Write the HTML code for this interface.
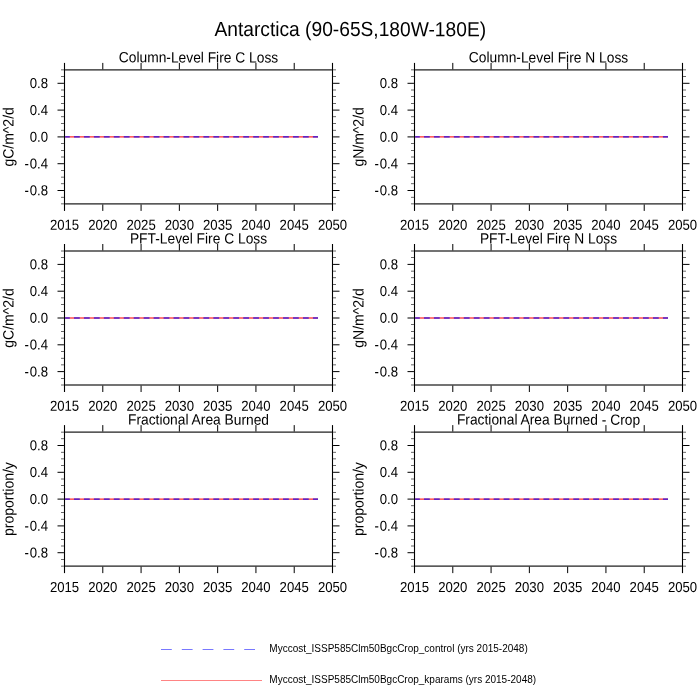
<!DOCTYPE html>
<html><head><meta charset="utf-8"><title>Antarctica</title>
<style>
html,body{margin:0;padding:0;background:#fff;width:700px;height:700px;overflow:hidden}
svg{display:block;will-change:transform}
text{font-family:"Liberation Sans", Arial, Helvetica, sans-serif;fill:#000}
</style></head><body>
<svg width="700" height="700" viewBox="0 0 700 700">
<rect width="700" height="700" fill="#fff"/>
<text transform="translate(350.25 36.1) skewY(0.05) scale(1.0 1.07)" text-anchor="middle" font-size="19.2">Antarctica (90-65S,180W-180E)</text>
<rect x="65.05" y="69" width="266.9" height="1" fill="#000" fill-opacity="0.650"/>
<rect x="65.05" y="70" width="266.9" height="1" fill="#000" fill-opacity="0.450"/>
<rect x="65.05" y="203" width="266.9" height="1" fill="#000" fill-opacity="0.650"/>
<rect x="65.05" y="204" width="266.9" height="1" fill="#000" fill-opacity="0.450"/>
<rect x="63" y="62.9" width="1" height="148" fill="#000" fill-opacity="0.050"/>
<rect x="64" y="62.9" width="1" height="148" fill="#000"/>
<rect x="65" y="62.9" width="1" height="148" fill="#000" fill-opacity="0.050"/>
<rect x="331" y="62.9" width="1" height="148" fill="#000" fill-opacity="0.050"/>
<rect x="332" y="62.9" width="1" height="148" fill="#000"/>
<rect x="333" y="62.9" width="1" height="148" fill="#000" fill-opacity="0.050"/>
<rect x="61" y="203" width="2.95" height="1" fill="#000" fill-opacity="0.400"/>
<rect x="61" y="204" width="2.95" height="1" fill="#000" fill-opacity="0.200"/>
<rect x="333.05" y="203" width="2.95" height="1" fill="#000" fill-opacity="0.400"/>
<rect x="333.05" y="204" width="2.95" height="1" fill="#000" fill-opacity="0.200"/>
<rect x="61" y="196" width="2.95" height="1" fill="#000" fill-opacity="0.100"/>
<rect x="61" y="197" width="2.95" height="1" fill="#000" fill-opacity="0.500"/>
<rect x="333.05" y="196" width="2.95" height="1" fill="#000" fill-opacity="0.100"/>
<rect x="333.05" y="197" width="2.95" height="1" fill="#000" fill-opacity="0.500"/>
<rect x="57.5" y="190" width="6.45" height="1" fill="#000"/>
<rect x="333.05" y="190" width="6.45" height="1" fill="#000"/>
<rect x="61" y="183" width="2.95" height="1" fill="#000" fill-opacity="0.500"/>
<rect x="61" y="184" width="2.95" height="1" fill="#000" fill-opacity="0.100"/>
<rect x="333.05" y="183" width="2.95" height="1" fill="#000" fill-opacity="0.500"/>
<rect x="333.05" y="184" width="2.95" height="1" fill="#000" fill-opacity="0.100"/>
<rect x="61" y="176" width="2.95" height="1" fill="#000" fill-opacity="0.200"/>
<rect x="61" y="177" width="2.95" height="1" fill="#000" fill-opacity="0.400"/>
<rect x="333.05" y="176" width="2.95" height="1" fill="#000" fill-opacity="0.200"/>
<rect x="333.05" y="177" width="2.95" height="1" fill="#000" fill-opacity="0.400"/>
<rect x="61" y="170" width="2.95" height="1" fill="#000" fill-opacity="0.600"/>
<rect x="333.05" y="170" width="2.95" height="1" fill="#000" fill-opacity="0.600"/>
<rect x="57.5" y="163" width="6.45" height="1" fill="#000" fill-opacity="0.800"/>
<rect x="57.5" y="164" width="6.45" height="1" fill="#000" fill-opacity="0.200"/>
<rect x="333.05" y="163" width="6.45" height="1" fill="#000" fill-opacity="0.800"/>
<rect x="333.05" y="164" width="6.45" height="1" fill="#000" fill-opacity="0.200"/>
<rect x="61" y="156" width="2.95" height="1" fill="#000" fill-opacity="0.300"/>
<rect x="61" y="157" width="2.95" height="1" fill="#000" fill-opacity="0.300"/>
<rect x="333.05" y="156" width="2.95" height="1" fill="#000" fill-opacity="0.300"/>
<rect x="333.05" y="157" width="2.95" height="1" fill="#000" fill-opacity="0.300"/>
<rect x="61" y="150" width="2.95" height="1" fill="#000" fill-opacity="0.600"/>
<rect x="333.05" y="150" width="2.95" height="1" fill="#000" fill-opacity="0.600"/>
<rect x="61" y="143" width="2.95" height="1" fill="#000" fill-opacity="0.600"/>
<rect x="333.05" y="143" width="2.95" height="1" fill="#000" fill-opacity="0.600"/>
<rect x="57.5" y="136" width="6.45" height="1" fill="#000" fill-opacity="0.600"/>
<rect x="57.5" y="137" width="6.45" height="1" fill="#000" fill-opacity="0.400"/>
<rect x="333.05" y="136" width="6.45" height="1" fill="#000" fill-opacity="0.600"/>
<rect x="333.05" y="137" width="6.45" height="1" fill="#000" fill-opacity="0.400"/>
<rect x="61" y="129" width="2.95" height="1" fill="#000" fill-opacity="0.100"/>
<rect x="61" y="130" width="2.95" height="1" fill="#000" fill-opacity="0.500"/>
<rect x="333.05" y="129" width="2.95" height="1" fill="#000" fill-opacity="0.100"/>
<rect x="333.05" y="130" width="2.95" height="1" fill="#000" fill-opacity="0.500"/>
<rect x="61" y="123" width="2.95" height="1" fill="#000" fill-opacity="0.600"/>
<rect x="333.05" y="123" width="2.95" height="1" fill="#000" fill-opacity="0.600"/>
<rect x="61" y="116" width="2.95" height="1" fill="#000" fill-opacity="0.500"/>
<rect x="61" y="117" width="2.95" height="1" fill="#000" fill-opacity="0.100"/>
<rect x="333.05" y="116" width="2.95" height="1" fill="#000" fill-opacity="0.500"/>
<rect x="333.05" y="117" width="2.95" height="1" fill="#000" fill-opacity="0.100"/>
<rect x="57.5" y="109" width="6.45" height="1" fill="#000" fill-opacity="0.400"/>
<rect x="57.5" y="110" width="6.45" height="1" fill="#000" fill-opacity="0.600"/>
<rect x="333.05" y="109" width="6.45" height="1" fill="#000" fill-opacity="0.400"/>
<rect x="333.05" y="110" width="6.45" height="1" fill="#000" fill-opacity="0.600"/>
<rect x="61" y="103" width="2.95" height="1" fill="#000" fill-opacity="0.600"/>
<rect x="333.05" y="103" width="2.95" height="1" fill="#000" fill-opacity="0.600"/>
<rect x="61" y="96" width="2.95" height="1" fill="#000" fill-opacity="0.600"/>
<rect x="333.05" y="96" width="2.95" height="1" fill="#000" fill-opacity="0.600"/>
<rect x="61" y="89" width="2.95" height="1" fill="#000" fill-opacity="0.300"/>
<rect x="61" y="90" width="2.95" height="1" fill="#000" fill-opacity="0.300"/>
<rect x="333.05" y="89" width="2.95" height="1" fill="#000" fill-opacity="0.300"/>
<rect x="333.05" y="90" width="2.95" height="1" fill="#000" fill-opacity="0.300"/>
<rect x="57.5" y="82" width="6.45" height="1" fill="#000" fill-opacity="0.200"/>
<rect x="57.5" y="83" width="6.45" height="1" fill="#000" fill-opacity="0.800"/>
<rect x="333.05" y="82" width="6.45" height="1" fill="#000" fill-opacity="0.200"/>
<rect x="333.05" y="83" width="6.45" height="1" fill="#000" fill-opacity="0.800"/>
<rect x="61" y="76" width="2.95" height="1" fill="#000" fill-opacity="0.600"/>
<rect x="333.05" y="76" width="2.95" height="1" fill="#000" fill-opacity="0.600"/>
<rect x="61" y="69" width="2.95" height="1" fill="#000" fill-opacity="0.400"/>
<rect x="61" y="70" width="2.95" height="1" fill="#000" fill-opacity="0.200"/>
<rect x="333.05" y="69" width="2.95" height="1" fill="#000" fill-opacity="0.400"/>
<rect x="333.05" y="70" width="2.95" height="1" fill="#000" fill-opacity="0.200"/>
<rect x="102" y="62.9" width="1" height="6.45" fill="#000" fill-opacity="0.714"/>
<rect x="103" y="62.9" width="1" height="6.45" fill="#000" fill-opacity="0.286"/>
<rect x="102" y="204.45" width="1" height="6.45" fill="#000" fill-opacity="0.714"/>
<rect x="103" y="204.45" width="1" height="6.45" fill="#000" fill-opacity="0.286"/>
<rect x="140" y="62.9" width="1" height="6.45" fill="#000" fill-opacity="0.429"/>
<rect x="141" y="62.9" width="1" height="6.45" fill="#000" fill-opacity="0.571"/>
<rect x="140" y="204.45" width="1" height="6.45" fill="#000" fill-opacity="0.429"/>
<rect x="141" y="204.45" width="1" height="6.45" fill="#000" fill-opacity="0.571"/>
<rect x="178" y="62.9" width="1" height="6.45" fill="#000" fill-opacity="0.143"/>
<rect x="179" y="62.9" width="1" height="6.45" fill="#000" fill-opacity="0.857"/>
<rect x="178" y="204.45" width="1" height="6.45" fill="#000" fill-opacity="0.143"/>
<rect x="179" y="204.45" width="1" height="6.45" fill="#000" fill-opacity="0.857"/>
<rect x="217" y="62.9" width="1" height="6.45" fill="#000" fill-opacity="0.857"/>
<rect x="218" y="62.9" width="1" height="6.45" fill="#000" fill-opacity="0.143"/>
<rect x="217" y="204.45" width="1" height="6.45" fill="#000" fill-opacity="0.857"/>
<rect x="218" y="204.45" width="1" height="6.45" fill="#000" fill-opacity="0.143"/>
<rect x="255" y="62.9" width="1" height="6.45" fill="#000" fill-opacity="0.571"/>
<rect x="256" y="62.9" width="1" height="6.45" fill="#000" fill-opacity="0.429"/>
<rect x="255" y="204.45" width="1" height="6.45" fill="#000" fill-opacity="0.571"/>
<rect x="256" y="204.45" width="1" height="6.45" fill="#000" fill-opacity="0.429"/>
<rect x="293" y="62.9" width="1" height="6.45" fill="#000" fill-opacity="0.286"/>
<rect x="294" y="62.9" width="1" height="6.45" fill="#000" fill-opacity="0.714"/>
<rect x="293" y="204.45" width="1" height="6.45" fill="#000" fill-opacity="0.286"/>
<rect x="294" y="204.45" width="1" height="6.45" fill="#000" fill-opacity="0.714"/>
<rect x="65.05" y="136" width="252.95" height="1" fill="#f00" fill-opacity="0.625"/>
<rect x="65.05" y="137" width="252.95" height="1" fill="#f00" fill-opacity="0.425"/>
<rect x="65.05" y="136" width="4.75" height="1" fill="#00f" fill-opacity="0.625"/>
<rect x="65.05" y="137" width="4.75" height="1" fill="#00f" fill-opacity="0.425"/>
<rect x="73.957" y="136" width="5.8" height="1" fill="#00f" fill-opacity="0.625"/>
<rect x="73.957" y="137" width="5.8" height="1" fill="#00f" fill-opacity="0.425"/>
<rect x="83.914" y="136" width="5.8" height="1" fill="#00f" fill-opacity="0.625"/>
<rect x="83.914" y="137" width="5.8" height="1" fill="#00f" fill-opacity="0.425"/>
<rect x="93.871" y="136" width="5.8" height="1" fill="#00f" fill-opacity="0.625"/>
<rect x="93.871" y="137" width="5.8" height="1" fill="#00f" fill-opacity="0.425"/>
<rect x="103.828" y="136" width="5.8" height="1" fill="#00f" fill-opacity="0.625"/>
<rect x="103.828" y="137" width="5.8" height="1" fill="#00f" fill-opacity="0.425"/>
<rect x="113.785" y="136" width="5.8" height="1" fill="#00f" fill-opacity="0.625"/>
<rect x="113.785" y="137" width="5.8" height="1" fill="#00f" fill-opacity="0.425"/>
<rect x="123.742" y="136" width="5.8" height="1" fill="#00f" fill-opacity="0.625"/>
<rect x="123.742" y="137" width="5.8" height="1" fill="#00f" fill-opacity="0.425"/>
<rect x="133.699" y="136" width="5.8" height="1" fill="#00f" fill-opacity="0.625"/>
<rect x="133.699" y="137" width="5.8" height="1" fill="#00f" fill-opacity="0.425"/>
<rect x="143.656" y="136" width="5.8" height="1" fill="#00f" fill-opacity="0.625"/>
<rect x="143.656" y="137" width="5.8" height="1" fill="#00f" fill-opacity="0.425"/>
<rect x="153.613" y="136" width="5.8" height="1" fill="#00f" fill-opacity="0.625"/>
<rect x="153.613" y="137" width="5.8" height="1" fill="#00f" fill-opacity="0.425"/>
<rect x="163.57" y="136" width="5.8" height="1" fill="#00f" fill-opacity="0.625"/>
<rect x="163.57" y="137" width="5.8" height="1" fill="#00f" fill-opacity="0.425"/>
<rect x="173.527" y="136" width="5.8" height="1" fill="#00f" fill-opacity="0.625"/>
<rect x="173.527" y="137" width="5.8" height="1" fill="#00f" fill-opacity="0.425"/>
<rect x="183.484" y="136" width="5.8" height="1" fill="#00f" fill-opacity="0.625"/>
<rect x="183.484" y="137" width="5.8" height="1" fill="#00f" fill-opacity="0.425"/>
<rect x="193.441" y="136" width="5.8" height="1" fill="#00f" fill-opacity="0.625"/>
<rect x="193.441" y="137" width="5.8" height="1" fill="#00f" fill-opacity="0.425"/>
<rect x="203.398" y="136" width="5.8" height="1" fill="#00f" fill-opacity="0.625"/>
<rect x="203.398" y="137" width="5.8" height="1" fill="#00f" fill-opacity="0.425"/>
<rect x="213.355" y="136" width="5.8" height="1" fill="#00f" fill-opacity="0.625"/>
<rect x="213.355" y="137" width="5.8" height="1" fill="#00f" fill-opacity="0.425"/>
<rect x="223.312" y="136" width="5.8" height="1" fill="#00f" fill-opacity="0.625"/>
<rect x="223.312" y="137" width="5.8" height="1" fill="#00f" fill-opacity="0.425"/>
<rect x="233.269" y="136" width="5.8" height="1" fill="#00f" fill-opacity="0.625"/>
<rect x="233.269" y="137" width="5.8" height="1" fill="#00f" fill-opacity="0.425"/>
<rect x="243.226" y="136" width="5.8" height="1" fill="#00f" fill-opacity="0.625"/>
<rect x="243.226" y="137" width="5.8" height="1" fill="#00f" fill-opacity="0.425"/>
<rect x="253.183" y="136" width="5.8" height="1" fill="#00f" fill-opacity="0.625"/>
<rect x="253.183" y="137" width="5.8" height="1" fill="#00f" fill-opacity="0.425"/>
<rect x="263.14" y="136" width="5.8" height="1" fill="#00f" fill-opacity="0.625"/>
<rect x="263.14" y="137" width="5.8" height="1" fill="#00f" fill-opacity="0.425"/>
<rect x="273.097" y="136" width="5.8" height="1" fill="#00f" fill-opacity="0.625"/>
<rect x="273.097" y="137" width="5.8" height="1" fill="#00f" fill-opacity="0.425"/>
<rect x="283.054" y="136" width="5.8" height="1" fill="#00f" fill-opacity="0.625"/>
<rect x="283.054" y="137" width="5.8" height="1" fill="#00f" fill-opacity="0.425"/>
<rect x="293.011" y="136" width="5.8" height="1" fill="#00f" fill-opacity="0.625"/>
<rect x="293.011" y="137" width="5.8" height="1" fill="#00f" fill-opacity="0.425"/>
<rect x="302.968" y="136" width="5.8" height="1" fill="#00f" fill-opacity="0.625"/>
<rect x="302.968" y="137" width="5.8" height="1" fill="#00f" fill-opacity="0.425"/>
<rect x="312.925" y="136" width="5.075" height="1" fill="#00f" fill-opacity="0.625"/>
<rect x="312.925" y="137" width="5.075" height="1" fill="#00f" fill-opacity="0.425"/>
<text transform="translate(48.1 88.1) skewY(0.05) scale(0.99 1.09)" text-anchor="end" font-size="13.3">0.8</text>
<text transform="translate(48.1 114.9) skewY(0.05) scale(0.99 1.09)" text-anchor="end" font-size="13.3">0.4</text>
<text transform="translate(48.1 141.7) skewY(0.05) scale(0.99 1.09)" text-anchor="end" font-size="13.3">0.0</text>
<text transform="translate(48.1 168.5) skewY(0.05) scale(0.99 1.09)" text-anchor="end" font-size="13.3">-<tspan dx="0.9">0.4</tspan></text>
<text transform="translate(48.1 195.3) skewY(0.05) scale(0.99 1.09)" text-anchor="end" font-size="13.3">-<tspan dx="0.9">0.8</tspan></text>
<text transform="translate(64.5 229.7) skewY(0.05) scale(0.99 1.09)" text-anchor="middle" font-size="13.3">2015</text>
<text transform="translate(102.786 229.7) skewY(0.05) scale(0.99 1.09)" text-anchor="middle" font-size="13.3">2020</text>
<text transform="translate(141.071 229.7) skewY(0.05) scale(0.99 1.09)" text-anchor="middle" font-size="13.3">2025</text>
<text transform="translate(179.357 229.7) skewY(0.05) scale(0.99 1.09)" text-anchor="middle" font-size="13.3">2030</text>
<text transform="translate(217.643 229.7) skewY(0.05) scale(0.99 1.09)" text-anchor="middle" font-size="13.3">2035</text>
<text transform="translate(255.929 229.7) skewY(0.05) scale(0.99 1.09)" text-anchor="middle" font-size="13.3">2040</text>
<text transform="translate(294.214 229.7) skewY(0.05) scale(0.99 1.09)" text-anchor="middle" font-size="13.3">2045</text>
<text transform="translate(332.5 229.7) skewY(0.05) scale(0.99 1.09)" text-anchor="middle" font-size="13.3">2050</text>
<text transform="translate(198.5 62.4) skewY(0.05) scale(1.0 1.07)" text-anchor="middle" font-size="13.8">Column-Level Fire C Loss</text>
<text transform="translate(13.6 136.9) rotate(-90) skewY(0.05) scale(1.0 1.07)" text-anchor="middle" font-size="14.0">gC/m^2/d</text>
<rect x="415.05" y="69" width="266.9" height="1" fill="#000" fill-opacity="0.650"/>
<rect x="415.05" y="70" width="266.9" height="1" fill="#000" fill-opacity="0.450"/>
<rect x="415.05" y="203" width="266.9" height="1" fill="#000" fill-opacity="0.650"/>
<rect x="415.05" y="204" width="266.9" height="1" fill="#000" fill-opacity="0.450"/>
<rect x="413" y="62.9" width="1" height="148" fill="#000" fill-opacity="0.050"/>
<rect x="414" y="62.9" width="1" height="148" fill="#000"/>
<rect x="415" y="62.9" width="1" height="148" fill="#000" fill-opacity="0.050"/>
<rect x="681" y="62.9" width="1" height="148" fill="#000" fill-opacity="0.050"/>
<rect x="682" y="62.9" width="1" height="148" fill="#000"/>
<rect x="683" y="62.9" width="1" height="148" fill="#000" fill-opacity="0.050"/>
<rect x="411" y="203" width="2.95" height="1" fill="#000" fill-opacity="0.400"/>
<rect x="411" y="204" width="2.95" height="1" fill="#000" fill-opacity="0.200"/>
<rect x="683.05" y="203" width="2.95" height="1" fill="#000" fill-opacity="0.400"/>
<rect x="683.05" y="204" width="2.95" height="1" fill="#000" fill-opacity="0.200"/>
<rect x="411" y="196" width="2.95" height="1" fill="#000" fill-opacity="0.100"/>
<rect x="411" y="197" width="2.95" height="1" fill="#000" fill-opacity="0.500"/>
<rect x="683.05" y="196" width="2.95" height="1" fill="#000" fill-opacity="0.100"/>
<rect x="683.05" y="197" width="2.95" height="1" fill="#000" fill-opacity="0.500"/>
<rect x="407.5" y="190" width="6.45" height="1" fill="#000"/>
<rect x="683.05" y="190" width="6.45" height="1" fill="#000"/>
<rect x="411" y="183" width="2.95" height="1" fill="#000" fill-opacity="0.500"/>
<rect x="411" y="184" width="2.95" height="1" fill="#000" fill-opacity="0.100"/>
<rect x="683.05" y="183" width="2.95" height="1" fill="#000" fill-opacity="0.500"/>
<rect x="683.05" y="184" width="2.95" height="1" fill="#000" fill-opacity="0.100"/>
<rect x="411" y="176" width="2.95" height="1" fill="#000" fill-opacity="0.200"/>
<rect x="411" y="177" width="2.95" height="1" fill="#000" fill-opacity="0.400"/>
<rect x="683.05" y="176" width="2.95" height="1" fill="#000" fill-opacity="0.200"/>
<rect x="683.05" y="177" width="2.95" height="1" fill="#000" fill-opacity="0.400"/>
<rect x="411" y="170" width="2.95" height="1" fill="#000" fill-opacity="0.600"/>
<rect x="683.05" y="170" width="2.95" height="1" fill="#000" fill-opacity="0.600"/>
<rect x="407.5" y="163" width="6.45" height="1" fill="#000" fill-opacity="0.800"/>
<rect x="407.5" y="164" width="6.45" height="1" fill="#000" fill-opacity="0.200"/>
<rect x="683.05" y="163" width="6.45" height="1" fill="#000" fill-opacity="0.800"/>
<rect x="683.05" y="164" width="6.45" height="1" fill="#000" fill-opacity="0.200"/>
<rect x="411" y="156" width="2.95" height="1" fill="#000" fill-opacity="0.300"/>
<rect x="411" y="157" width="2.95" height="1" fill="#000" fill-opacity="0.300"/>
<rect x="683.05" y="156" width="2.95" height="1" fill="#000" fill-opacity="0.300"/>
<rect x="683.05" y="157" width="2.95" height="1" fill="#000" fill-opacity="0.300"/>
<rect x="411" y="150" width="2.95" height="1" fill="#000" fill-opacity="0.600"/>
<rect x="683.05" y="150" width="2.95" height="1" fill="#000" fill-opacity="0.600"/>
<rect x="411" y="143" width="2.95" height="1" fill="#000" fill-opacity="0.600"/>
<rect x="683.05" y="143" width="2.95" height="1" fill="#000" fill-opacity="0.600"/>
<rect x="407.5" y="136" width="6.45" height="1" fill="#000" fill-opacity="0.600"/>
<rect x="407.5" y="137" width="6.45" height="1" fill="#000" fill-opacity="0.400"/>
<rect x="683.05" y="136" width="6.45" height="1" fill="#000" fill-opacity="0.600"/>
<rect x="683.05" y="137" width="6.45" height="1" fill="#000" fill-opacity="0.400"/>
<rect x="411" y="129" width="2.95" height="1" fill="#000" fill-opacity="0.100"/>
<rect x="411" y="130" width="2.95" height="1" fill="#000" fill-opacity="0.500"/>
<rect x="683.05" y="129" width="2.95" height="1" fill="#000" fill-opacity="0.100"/>
<rect x="683.05" y="130" width="2.95" height="1" fill="#000" fill-opacity="0.500"/>
<rect x="411" y="123" width="2.95" height="1" fill="#000" fill-opacity="0.600"/>
<rect x="683.05" y="123" width="2.95" height="1" fill="#000" fill-opacity="0.600"/>
<rect x="411" y="116" width="2.95" height="1" fill="#000" fill-opacity="0.500"/>
<rect x="411" y="117" width="2.95" height="1" fill="#000" fill-opacity="0.100"/>
<rect x="683.05" y="116" width="2.95" height="1" fill="#000" fill-opacity="0.500"/>
<rect x="683.05" y="117" width="2.95" height="1" fill="#000" fill-opacity="0.100"/>
<rect x="407.5" y="109" width="6.45" height="1" fill="#000" fill-opacity="0.400"/>
<rect x="407.5" y="110" width="6.45" height="1" fill="#000" fill-opacity="0.600"/>
<rect x="683.05" y="109" width="6.45" height="1" fill="#000" fill-opacity="0.400"/>
<rect x="683.05" y="110" width="6.45" height="1" fill="#000" fill-opacity="0.600"/>
<rect x="411" y="103" width="2.95" height="1" fill="#000" fill-opacity="0.600"/>
<rect x="683.05" y="103" width="2.95" height="1" fill="#000" fill-opacity="0.600"/>
<rect x="411" y="96" width="2.95" height="1" fill="#000" fill-opacity="0.600"/>
<rect x="683.05" y="96" width="2.95" height="1" fill="#000" fill-opacity="0.600"/>
<rect x="411" y="89" width="2.95" height="1" fill="#000" fill-opacity="0.300"/>
<rect x="411" y="90" width="2.95" height="1" fill="#000" fill-opacity="0.300"/>
<rect x="683.05" y="89" width="2.95" height="1" fill="#000" fill-opacity="0.300"/>
<rect x="683.05" y="90" width="2.95" height="1" fill="#000" fill-opacity="0.300"/>
<rect x="407.5" y="82" width="6.45" height="1" fill="#000" fill-opacity="0.200"/>
<rect x="407.5" y="83" width="6.45" height="1" fill="#000" fill-opacity="0.800"/>
<rect x="683.05" y="82" width="6.45" height="1" fill="#000" fill-opacity="0.200"/>
<rect x="683.05" y="83" width="6.45" height="1" fill="#000" fill-opacity="0.800"/>
<rect x="411" y="76" width="2.95" height="1" fill="#000" fill-opacity="0.600"/>
<rect x="683.05" y="76" width="2.95" height="1" fill="#000" fill-opacity="0.600"/>
<rect x="411" y="69" width="2.95" height="1" fill="#000" fill-opacity="0.400"/>
<rect x="411" y="70" width="2.95" height="1" fill="#000" fill-opacity="0.200"/>
<rect x="683.05" y="69" width="2.95" height="1" fill="#000" fill-opacity="0.400"/>
<rect x="683.05" y="70" width="2.95" height="1" fill="#000" fill-opacity="0.200"/>
<rect x="452" y="62.9" width="1" height="6.45" fill="#000" fill-opacity="0.714"/>
<rect x="453" y="62.9" width="1" height="6.45" fill="#000" fill-opacity="0.286"/>
<rect x="452" y="204.45" width="1" height="6.45" fill="#000" fill-opacity="0.714"/>
<rect x="453" y="204.45" width="1" height="6.45" fill="#000" fill-opacity="0.286"/>
<rect x="490" y="62.9" width="1" height="6.45" fill="#000" fill-opacity="0.429"/>
<rect x="491" y="62.9" width="1" height="6.45" fill="#000" fill-opacity="0.571"/>
<rect x="490" y="204.45" width="1" height="6.45" fill="#000" fill-opacity="0.429"/>
<rect x="491" y="204.45" width="1" height="6.45" fill="#000" fill-opacity="0.571"/>
<rect x="528" y="62.9" width="1" height="6.45" fill="#000" fill-opacity="0.143"/>
<rect x="529" y="62.9" width="1" height="6.45" fill="#000" fill-opacity="0.857"/>
<rect x="528" y="204.45" width="1" height="6.45" fill="#000" fill-opacity="0.143"/>
<rect x="529" y="204.45" width="1" height="6.45" fill="#000" fill-opacity="0.857"/>
<rect x="567" y="62.9" width="1" height="6.45" fill="#000" fill-opacity="0.857"/>
<rect x="568" y="62.9" width="1" height="6.45" fill="#000" fill-opacity="0.143"/>
<rect x="567" y="204.45" width="1" height="6.45" fill="#000" fill-opacity="0.857"/>
<rect x="568" y="204.45" width="1" height="6.45" fill="#000" fill-opacity="0.143"/>
<rect x="605" y="62.9" width="1" height="6.45" fill="#000" fill-opacity="0.571"/>
<rect x="606" y="62.9" width="1" height="6.45" fill="#000" fill-opacity="0.429"/>
<rect x="605" y="204.45" width="1" height="6.45" fill="#000" fill-opacity="0.571"/>
<rect x="606" y="204.45" width="1" height="6.45" fill="#000" fill-opacity="0.429"/>
<rect x="643" y="62.9" width="1" height="6.45" fill="#000" fill-opacity="0.286"/>
<rect x="644" y="62.9" width="1" height="6.45" fill="#000" fill-opacity="0.714"/>
<rect x="643" y="204.45" width="1" height="6.45" fill="#000" fill-opacity="0.286"/>
<rect x="644" y="204.45" width="1" height="6.45" fill="#000" fill-opacity="0.714"/>
<rect x="415.05" y="136" width="252.95" height="1" fill="#f00" fill-opacity="0.625"/>
<rect x="415.05" y="137" width="252.95" height="1" fill="#f00" fill-opacity="0.425"/>
<rect x="415.05" y="136" width="4.75" height="1" fill="#00f" fill-opacity="0.625"/>
<rect x="415.05" y="137" width="4.75" height="1" fill="#00f" fill-opacity="0.425"/>
<rect x="423.957" y="136" width="5.8" height="1" fill="#00f" fill-opacity="0.625"/>
<rect x="423.957" y="137" width="5.8" height="1" fill="#00f" fill-opacity="0.425"/>
<rect x="433.914" y="136" width="5.8" height="1" fill="#00f" fill-opacity="0.625"/>
<rect x="433.914" y="137" width="5.8" height="1" fill="#00f" fill-opacity="0.425"/>
<rect x="443.871" y="136" width="5.8" height="1" fill="#00f" fill-opacity="0.625"/>
<rect x="443.871" y="137" width="5.8" height="1" fill="#00f" fill-opacity="0.425"/>
<rect x="453.828" y="136" width="5.8" height="1" fill="#00f" fill-opacity="0.625"/>
<rect x="453.828" y="137" width="5.8" height="1" fill="#00f" fill-opacity="0.425"/>
<rect x="463.785" y="136" width="5.8" height="1" fill="#00f" fill-opacity="0.625"/>
<rect x="463.785" y="137" width="5.8" height="1" fill="#00f" fill-opacity="0.425"/>
<rect x="473.742" y="136" width="5.8" height="1" fill="#00f" fill-opacity="0.625"/>
<rect x="473.742" y="137" width="5.8" height="1" fill="#00f" fill-opacity="0.425"/>
<rect x="483.699" y="136" width="5.8" height="1" fill="#00f" fill-opacity="0.625"/>
<rect x="483.699" y="137" width="5.8" height="1" fill="#00f" fill-opacity="0.425"/>
<rect x="493.656" y="136" width="5.8" height="1" fill="#00f" fill-opacity="0.625"/>
<rect x="493.656" y="137" width="5.8" height="1" fill="#00f" fill-opacity="0.425"/>
<rect x="503.613" y="136" width="5.8" height="1" fill="#00f" fill-opacity="0.625"/>
<rect x="503.613" y="137" width="5.8" height="1" fill="#00f" fill-opacity="0.425"/>
<rect x="513.57" y="136" width="5.8" height="1" fill="#00f" fill-opacity="0.625"/>
<rect x="513.57" y="137" width="5.8" height="1" fill="#00f" fill-opacity="0.425"/>
<rect x="523.527" y="136" width="5.8" height="1" fill="#00f" fill-opacity="0.625"/>
<rect x="523.527" y="137" width="5.8" height="1" fill="#00f" fill-opacity="0.425"/>
<rect x="533.484" y="136" width="5.8" height="1" fill="#00f" fill-opacity="0.625"/>
<rect x="533.484" y="137" width="5.8" height="1" fill="#00f" fill-opacity="0.425"/>
<rect x="543.441" y="136" width="5.8" height="1" fill="#00f" fill-opacity="0.625"/>
<rect x="543.441" y="137" width="5.8" height="1" fill="#00f" fill-opacity="0.425"/>
<rect x="553.398" y="136" width="5.8" height="1" fill="#00f" fill-opacity="0.625"/>
<rect x="553.398" y="137" width="5.8" height="1" fill="#00f" fill-opacity="0.425"/>
<rect x="563.355" y="136" width="5.8" height="1" fill="#00f" fill-opacity="0.625"/>
<rect x="563.355" y="137" width="5.8" height="1" fill="#00f" fill-opacity="0.425"/>
<rect x="573.312" y="136" width="5.8" height="1" fill="#00f" fill-opacity="0.625"/>
<rect x="573.312" y="137" width="5.8" height="1" fill="#00f" fill-opacity="0.425"/>
<rect x="583.269" y="136" width="5.8" height="1" fill="#00f" fill-opacity="0.625"/>
<rect x="583.269" y="137" width="5.8" height="1" fill="#00f" fill-opacity="0.425"/>
<rect x="593.226" y="136" width="5.8" height="1" fill="#00f" fill-opacity="0.625"/>
<rect x="593.226" y="137" width="5.8" height="1" fill="#00f" fill-opacity="0.425"/>
<rect x="603.183" y="136" width="5.8" height="1" fill="#00f" fill-opacity="0.625"/>
<rect x="603.183" y="137" width="5.8" height="1" fill="#00f" fill-opacity="0.425"/>
<rect x="613.14" y="136" width="5.8" height="1" fill="#00f" fill-opacity="0.625"/>
<rect x="613.14" y="137" width="5.8" height="1" fill="#00f" fill-opacity="0.425"/>
<rect x="623.097" y="136" width="5.8" height="1" fill="#00f" fill-opacity="0.625"/>
<rect x="623.097" y="137" width="5.8" height="1" fill="#00f" fill-opacity="0.425"/>
<rect x="633.054" y="136" width="5.8" height="1" fill="#00f" fill-opacity="0.625"/>
<rect x="633.054" y="137" width="5.8" height="1" fill="#00f" fill-opacity="0.425"/>
<rect x="643.011" y="136" width="5.8" height="1" fill="#00f" fill-opacity="0.625"/>
<rect x="643.011" y="137" width="5.8" height="1" fill="#00f" fill-opacity="0.425"/>
<rect x="652.968" y="136" width="5.8" height="1" fill="#00f" fill-opacity="0.625"/>
<rect x="652.968" y="137" width="5.8" height="1" fill="#00f" fill-opacity="0.425"/>
<rect x="662.925" y="136" width="5.075" height="1" fill="#00f" fill-opacity="0.625"/>
<rect x="662.925" y="137" width="5.075" height="1" fill="#00f" fill-opacity="0.425"/>
<text transform="translate(398.1 88.1) skewY(0.05) scale(0.99 1.09)" text-anchor="end" font-size="13.3">0.8</text>
<text transform="translate(398.1 114.9) skewY(0.05) scale(0.99 1.09)" text-anchor="end" font-size="13.3">0.4</text>
<text transform="translate(398.1 141.7) skewY(0.05) scale(0.99 1.09)" text-anchor="end" font-size="13.3">0.0</text>
<text transform="translate(398.1 168.5) skewY(0.05) scale(0.99 1.09)" text-anchor="end" font-size="13.3">-<tspan dx="0.9">0.4</tspan></text>
<text transform="translate(398.1 195.3) skewY(0.05) scale(0.99 1.09)" text-anchor="end" font-size="13.3">-<tspan dx="0.9">0.8</tspan></text>
<text transform="translate(414.5 229.7) skewY(0.05) scale(0.99 1.09)" text-anchor="middle" font-size="13.3">2015</text>
<text transform="translate(452.786 229.7) skewY(0.05) scale(0.99 1.09)" text-anchor="middle" font-size="13.3">2020</text>
<text transform="translate(491.071 229.7) skewY(0.05) scale(0.99 1.09)" text-anchor="middle" font-size="13.3">2025</text>
<text transform="translate(529.357 229.7) skewY(0.05) scale(0.99 1.09)" text-anchor="middle" font-size="13.3">2030</text>
<text transform="translate(567.643 229.7) skewY(0.05) scale(0.99 1.09)" text-anchor="middle" font-size="13.3">2035</text>
<text transform="translate(605.929 229.7) skewY(0.05) scale(0.99 1.09)" text-anchor="middle" font-size="13.3">2040</text>
<text transform="translate(644.214 229.7) skewY(0.05) scale(0.99 1.09)" text-anchor="middle" font-size="13.3">2045</text>
<text transform="translate(682.5 229.7) skewY(0.05) scale(0.99 1.09)" text-anchor="middle" font-size="13.3">2050</text>
<text transform="translate(548.5 62.4) skewY(0.05) scale(1.0 1.07)" text-anchor="middle" font-size="13.8">Column-Level Fire N Loss</text>
<text transform="translate(363.6 136.9) rotate(-90) skewY(0.05) scale(1.0 1.07)" text-anchor="middle" font-size="14.0">gN/m^2/d</text>
<rect x="65.05" y="250" width="266.9" height="1" fill="#000" fill-opacity="0.550"/>
<rect x="65.05" y="251" width="266.9" height="1" fill="#000" fill-opacity="0.550"/>
<rect x="65.05" y="384" width="266.9" height="1" fill="#000" fill-opacity="0.550"/>
<rect x="65.05" y="385" width="266.9" height="1" fill="#000" fill-opacity="0.550"/>
<rect x="63" y="244" width="1" height="148" fill="#000" fill-opacity="0.050"/>
<rect x="64" y="244" width="1" height="148" fill="#000"/>
<rect x="65" y="244" width="1" height="148" fill="#000" fill-opacity="0.050"/>
<rect x="331" y="244" width="1" height="148" fill="#000" fill-opacity="0.050"/>
<rect x="332" y="244" width="1" height="148" fill="#000"/>
<rect x="333" y="244" width="1" height="148" fill="#000" fill-opacity="0.050"/>
<rect x="61" y="384" width="2.95" height="1" fill="#000" fill-opacity="0.300"/>
<rect x="61" y="385" width="2.95" height="1" fill="#000" fill-opacity="0.300"/>
<rect x="333.05" y="384" width="2.95" height="1" fill="#000" fill-opacity="0.300"/>
<rect x="333.05" y="385" width="2.95" height="1" fill="#000" fill-opacity="0.300"/>
<rect x="61" y="378" width="2.95" height="1" fill="#000" fill-opacity="0.600"/>
<rect x="333.05" y="378" width="2.95" height="1" fill="#000" fill-opacity="0.600"/>
<rect x="57.5" y="371" width="6.45" height="1" fill="#000" fill-opacity="0.900"/>
<rect x="57.5" y="372" width="6.45" height="1" fill="#000" fill-opacity="0.100"/>
<rect x="333.05" y="371" width="6.45" height="1" fill="#000" fill-opacity="0.900"/>
<rect x="333.05" y="372" width="6.45" height="1" fill="#000" fill-opacity="0.100"/>
<rect x="61" y="364" width="2.95" height="1" fill="#000" fill-opacity="0.400"/>
<rect x="61" y="365" width="2.95" height="1" fill="#000" fill-opacity="0.200"/>
<rect x="333.05" y="364" width="2.95" height="1" fill="#000" fill-opacity="0.400"/>
<rect x="333.05" y="365" width="2.95" height="1" fill="#000" fill-opacity="0.200"/>
<rect x="61" y="357" width="2.95" height="1" fill="#000" fill-opacity="0.100"/>
<rect x="61" y="358" width="2.95" height="1" fill="#000" fill-opacity="0.500"/>
<rect x="333.05" y="357" width="2.95" height="1" fill="#000" fill-opacity="0.100"/>
<rect x="333.05" y="358" width="2.95" height="1" fill="#000" fill-opacity="0.500"/>
<rect x="61" y="351" width="2.95" height="1" fill="#000" fill-opacity="0.600"/>
<rect x="333.05" y="351" width="2.95" height="1" fill="#000" fill-opacity="0.600"/>
<rect x="57.5" y="344" width="6.45" height="1" fill="#000" fill-opacity="0.700"/>
<rect x="57.5" y="345" width="6.45" height="1" fill="#000" fill-opacity="0.300"/>
<rect x="333.05" y="344" width="6.45" height="1" fill="#000" fill-opacity="0.700"/>
<rect x="333.05" y="345" width="6.45" height="1" fill="#000" fill-opacity="0.300"/>
<rect x="61" y="337" width="2.95" height="1" fill="#000" fill-opacity="0.200"/>
<rect x="61" y="338" width="2.95" height="1" fill="#000" fill-opacity="0.400"/>
<rect x="333.05" y="337" width="2.95" height="1" fill="#000" fill-opacity="0.200"/>
<rect x="333.05" y="338" width="2.95" height="1" fill="#000" fill-opacity="0.400"/>
<rect x="61" y="331" width="2.95" height="1" fill="#000" fill-opacity="0.600"/>
<rect x="333.05" y="331" width="2.95" height="1" fill="#000" fill-opacity="0.600"/>
<rect x="61" y="324" width="2.95" height="1" fill="#000" fill-opacity="0.600"/>
<rect x="333.05" y="324" width="2.95" height="1" fill="#000" fill-opacity="0.600"/>
<rect x="57.5" y="317" width="6.45" height="1" fill="#000" fill-opacity="0.500"/>
<rect x="57.5" y="318" width="6.45" height="1" fill="#000" fill-opacity="0.500"/>
<rect x="333.05" y="317" width="6.45" height="1" fill="#000" fill-opacity="0.500"/>
<rect x="333.05" y="318" width="6.45" height="1" fill="#000" fill-opacity="0.500"/>
<rect x="61" y="311" width="2.95" height="1" fill="#000" fill-opacity="0.600"/>
<rect x="333.05" y="311" width="2.95" height="1" fill="#000" fill-opacity="0.600"/>
<rect x="61" y="304" width="2.95" height="1" fill="#000" fill-opacity="0.600"/>
<rect x="333.05" y="304" width="2.95" height="1" fill="#000" fill-opacity="0.600"/>
<rect x="61" y="297" width="2.95" height="1" fill="#000" fill-opacity="0.400"/>
<rect x="61" y="298" width="2.95" height="1" fill="#000" fill-opacity="0.200"/>
<rect x="333.05" y="297" width="2.95" height="1" fill="#000" fill-opacity="0.400"/>
<rect x="333.05" y="298" width="2.95" height="1" fill="#000" fill-opacity="0.200"/>
<rect x="57.5" y="290" width="6.45" height="1" fill="#000" fill-opacity="0.300"/>
<rect x="57.5" y="291" width="6.45" height="1" fill="#000" fill-opacity="0.700"/>
<rect x="333.05" y="290" width="6.45" height="1" fill="#000" fill-opacity="0.300"/>
<rect x="333.05" y="291" width="6.45" height="1" fill="#000" fill-opacity="0.700"/>
<rect x="61" y="284" width="2.95" height="1" fill="#000" fill-opacity="0.600"/>
<rect x="333.05" y="284" width="2.95" height="1" fill="#000" fill-opacity="0.600"/>
<rect x="61" y="277" width="2.95" height="1" fill="#000" fill-opacity="0.500"/>
<rect x="61" y="278" width="2.95" height="1" fill="#000" fill-opacity="0.100"/>
<rect x="333.05" y="277" width="2.95" height="1" fill="#000" fill-opacity="0.500"/>
<rect x="333.05" y="278" width="2.95" height="1" fill="#000" fill-opacity="0.100"/>
<rect x="61" y="270" width="2.95" height="1" fill="#000" fill-opacity="0.200"/>
<rect x="61" y="271" width="2.95" height="1" fill="#000" fill-opacity="0.400"/>
<rect x="333.05" y="270" width="2.95" height="1" fill="#000" fill-opacity="0.200"/>
<rect x="333.05" y="271" width="2.95" height="1" fill="#000" fill-opacity="0.400"/>
<rect x="57.5" y="263" width="6.45" height="1" fill="#000" fill-opacity="0.100"/>
<rect x="57.5" y="264" width="6.45" height="1" fill="#000" fill-opacity="0.900"/>
<rect x="333.05" y="263" width="6.45" height="1" fill="#000" fill-opacity="0.100"/>
<rect x="333.05" y="264" width="6.45" height="1" fill="#000" fill-opacity="0.900"/>
<rect x="61" y="257" width="2.95" height="1" fill="#000" fill-opacity="0.600"/>
<rect x="333.05" y="257" width="2.95" height="1" fill="#000" fill-opacity="0.600"/>
<rect x="61" y="250" width="2.95" height="1" fill="#000" fill-opacity="0.300"/>
<rect x="61" y="251" width="2.95" height="1" fill="#000" fill-opacity="0.300"/>
<rect x="333.05" y="250" width="2.95" height="1" fill="#000" fill-opacity="0.300"/>
<rect x="333.05" y="251" width="2.95" height="1" fill="#000" fill-opacity="0.300"/>
<rect x="102" y="244" width="1" height="6.45" fill="#000" fill-opacity="0.714"/>
<rect x="103" y="244" width="1" height="6.45" fill="#000" fill-opacity="0.286"/>
<rect x="102" y="385.55" width="1" height="6.45" fill="#000" fill-opacity="0.714"/>
<rect x="103" y="385.55" width="1" height="6.45" fill="#000" fill-opacity="0.286"/>
<rect x="140" y="244" width="1" height="6.45" fill="#000" fill-opacity="0.429"/>
<rect x="141" y="244" width="1" height="6.45" fill="#000" fill-opacity="0.571"/>
<rect x="140" y="385.55" width="1" height="6.45" fill="#000" fill-opacity="0.429"/>
<rect x="141" y="385.55" width="1" height="6.45" fill="#000" fill-opacity="0.571"/>
<rect x="178" y="244" width="1" height="6.45" fill="#000" fill-opacity="0.143"/>
<rect x="179" y="244" width="1" height="6.45" fill="#000" fill-opacity="0.857"/>
<rect x="178" y="385.55" width="1" height="6.45" fill="#000" fill-opacity="0.143"/>
<rect x="179" y="385.55" width="1" height="6.45" fill="#000" fill-opacity="0.857"/>
<rect x="217" y="244" width="1" height="6.45" fill="#000" fill-opacity="0.857"/>
<rect x="218" y="244" width="1" height="6.45" fill="#000" fill-opacity="0.143"/>
<rect x="217" y="385.55" width="1" height="6.45" fill="#000" fill-opacity="0.857"/>
<rect x="218" y="385.55" width="1" height="6.45" fill="#000" fill-opacity="0.143"/>
<rect x="255" y="244" width="1" height="6.45" fill="#000" fill-opacity="0.571"/>
<rect x="256" y="244" width="1" height="6.45" fill="#000" fill-opacity="0.429"/>
<rect x="255" y="385.55" width="1" height="6.45" fill="#000" fill-opacity="0.571"/>
<rect x="256" y="385.55" width="1" height="6.45" fill="#000" fill-opacity="0.429"/>
<rect x="293" y="244" width="1" height="6.45" fill="#000" fill-opacity="0.286"/>
<rect x="294" y="244" width="1" height="6.45" fill="#000" fill-opacity="0.714"/>
<rect x="293" y="385.55" width="1" height="6.45" fill="#000" fill-opacity="0.286"/>
<rect x="294" y="385.55" width="1" height="6.45" fill="#000" fill-opacity="0.714"/>
<rect x="65.05" y="317" width="252.95" height="1" fill="#f00" fill-opacity="0.525"/>
<rect x="65.05" y="318" width="252.95" height="1" fill="#f00" fill-opacity="0.525"/>
<rect x="65.05" y="317" width="4.75" height="1" fill="#00f" fill-opacity="0.525"/>
<rect x="65.05" y="318" width="4.75" height="1" fill="#00f" fill-opacity="0.525"/>
<rect x="73.957" y="317" width="5.8" height="1" fill="#00f" fill-opacity="0.525"/>
<rect x="73.957" y="318" width="5.8" height="1" fill="#00f" fill-opacity="0.525"/>
<rect x="83.914" y="317" width="5.8" height="1" fill="#00f" fill-opacity="0.525"/>
<rect x="83.914" y="318" width="5.8" height="1" fill="#00f" fill-opacity="0.525"/>
<rect x="93.871" y="317" width="5.8" height="1" fill="#00f" fill-opacity="0.525"/>
<rect x="93.871" y="318" width="5.8" height="1" fill="#00f" fill-opacity="0.525"/>
<rect x="103.828" y="317" width="5.8" height="1" fill="#00f" fill-opacity="0.525"/>
<rect x="103.828" y="318" width="5.8" height="1" fill="#00f" fill-opacity="0.525"/>
<rect x="113.785" y="317" width="5.8" height="1" fill="#00f" fill-opacity="0.525"/>
<rect x="113.785" y="318" width="5.8" height="1" fill="#00f" fill-opacity="0.525"/>
<rect x="123.742" y="317" width="5.8" height="1" fill="#00f" fill-opacity="0.525"/>
<rect x="123.742" y="318" width="5.8" height="1" fill="#00f" fill-opacity="0.525"/>
<rect x="133.699" y="317" width="5.8" height="1" fill="#00f" fill-opacity="0.525"/>
<rect x="133.699" y="318" width="5.8" height="1" fill="#00f" fill-opacity="0.525"/>
<rect x="143.656" y="317" width="5.8" height="1" fill="#00f" fill-opacity="0.525"/>
<rect x="143.656" y="318" width="5.8" height="1" fill="#00f" fill-opacity="0.525"/>
<rect x="153.613" y="317" width="5.8" height="1" fill="#00f" fill-opacity="0.525"/>
<rect x="153.613" y="318" width="5.8" height="1" fill="#00f" fill-opacity="0.525"/>
<rect x="163.57" y="317" width="5.8" height="1" fill="#00f" fill-opacity="0.525"/>
<rect x="163.57" y="318" width="5.8" height="1" fill="#00f" fill-opacity="0.525"/>
<rect x="173.527" y="317" width="5.8" height="1" fill="#00f" fill-opacity="0.525"/>
<rect x="173.527" y="318" width="5.8" height="1" fill="#00f" fill-opacity="0.525"/>
<rect x="183.484" y="317" width="5.8" height="1" fill="#00f" fill-opacity="0.525"/>
<rect x="183.484" y="318" width="5.8" height="1" fill="#00f" fill-opacity="0.525"/>
<rect x="193.441" y="317" width="5.8" height="1" fill="#00f" fill-opacity="0.525"/>
<rect x="193.441" y="318" width="5.8" height="1" fill="#00f" fill-opacity="0.525"/>
<rect x="203.398" y="317" width="5.8" height="1" fill="#00f" fill-opacity="0.525"/>
<rect x="203.398" y="318" width="5.8" height="1" fill="#00f" fill-opacity="0.525"/>
<rect x="213.355" y="317" width="5.8" height="1" fill="#00f" fill-opacity="0.525"/>
<rect x="213.355" y="318" width="5.8" height="1" fill="#00f" fill-opacity="0.525"/>
<rect x="223.312" y="317" width="5.8" height="1" fill="#00f" fill-opacity="0.525"/>
<rect x="223.312" y="318" width="5.8" height="1" fill="#00f" fill-opacity="0.525"/>
<rect x="233.269" y="317" width="5.8" height="1" fill="#00f" fill-opacity="0.525"/>
<rect x="233.269" y="318" width="5.8" height="1" fill="#00f" fill-opacity="0.525"/>
<rect x="243.226" y="317" width="5.8" height="1" fill="#00f" fill-opacity="0.525"/>
<rect x="243.226" y="318" width="5.8" height="1" fill="#00f" fill-opacity="0.525"/>
<rect x="253.183" y="317" width="5.8" height="1" fill="#00f" fill-opacity="0.525"/>
<rect x="253.183" y="318" width="5.8" height="1" fill="#00f" fill-opacity="0.525"/>
<rect x="263.14" y="317" width="5.8" height="1" fill="#00f" fill-opacity="0.525"/>
<rect x="263.14" y="318" width="5.8" height="1" fill="#00f" fill-opacity="0.525"/>
<rect x="273.097" y="317" width="5.8" height="1" fill="#00f" fill-opacity="0.525"/>
<rect x="273.097" y="318" width="5.8" height="1" fill="#00f" fill-opacity="0.525"/>
<rect x="283.054" y="317" width="5.8" height="1" fill="#00f" fill-opacity="0.525"/>
<rect x="283.054" y="318" width="5.8" height="1" fill="#00f" fill-opacity="0.525"/>
<rect x="293.011" y="317" width="5.8" height="1" fill="#00f" fill-opacity="0.525"/>
<rect x="293.011" y="318" width="5.8" height="1" fill="#00f" fill-opacity="0.525"/>
<rect x="302.968" y="317" width="5.8" height="1" fill="#00f" fill-opacity="0.525"/>
<rect x="302.968" y="318" width="5.8" height="1" fill="#00f" fill-opacity="0.525"/>
<rect x="312.925" y="317" width="5.075" height="1" fill="#00f" fill-opacity="0.525"/>
<rect x="312.925" y="318" width="5.075" height="1" fill="#00f" fill-opacity="0.525"/>
<text transform="translate(48.1 269.2) skewY(0.05) scale(0.99 1.09)" text-anchor="end" font-size="13.3">0.8</text>
<text transform="translate(48.1 296) skewY(0.05) scale(0.99 1.09)" text-anchor="end" font-size="13.3">0.4</text>
<text transform="translate(48.1 322.8) skewY(0.05) scale(0.99 1.09)" text-anchor="end" font-size="13.3">0.0</text>
<text transform="translate(48.1 349.6) skewY(0.05) scale(0.99 1.09)" text-anchor="end" font-size="13.3">-<tspan dx="0.9">0.4</tspan></text>
<text transform="translate(48.1 376.4) skewY(0.05) scale(0.99 1.09)" text-anchor="end" font-size="13.3">-<tspan dx="0.9">0.8</tspan></text>
<text transform="translate(64.5 410.8) skewY(0.05) scale(0.99 1.09)" text-anchor="middle" font-size="13.3">2015</text>
<text transform="translate(102.786 410.8) skewY(0.05) scale(0.99 1.09)" text-anchor="middle" font-size="13.3">2020</text>
<text transform="translate(141.071 410.8) skewY(0.05) scale(0.99 1.09)" text-anchor="middle" font-size="13.3">2025</text>
<text transform="translate(179.357 410.8) skewY(0.05) scale(0.99 1.09)" text-anchor="middle" font-size="13.3">2030</text>
<text transform="translate(217.643 410.8) skewY(0.05) scale(0.99 1.09)" text-anchor="middle" font-size="13.3">2035</text>
<text transform="translate(255.929 410.8) skewY(0.05) scale(0.99 1.09)" text-anchor="middle" font-size="13.3">2040</text>
<text transform="translate(294.214 410.8) skewY(0.05) scale(0.99 1.09)" text-anchor="middle" font-size="13.3">2045</text>
<text transform="translate(332.5 410.8) skewY(0.05) scale(0.99 1.09)" text-anchor="middle" font-size="13.3">2050</text>
<text transform="translate(198.5 243.5) skewY(0.05) scale(1.0 1.07)" text-anchor="middle" font-size="13.8">PFT-Level Fire C Loss</text>
<text transform="translate(13.6 318) rotate(-90) skewY(0.05) scale(1.0 1.07)" text-anchor="middle" font-size="14.0">gC/m^2/d</text>
<rect x="415.05" y="250" width="266.9" height="1" fill="#000" fill-opacity="0.550"/>
<rect x="415.05" y="251" width="266.9" height="1" fill="#000" fill-opacity="0.550"/>
<rect x="415.05" y="384" width="266.9" height="1" fill="#000" fill-opacity="0.550"/>
<rect x="415.05" y="385" width="266.9" height="1" fill="#000" fill-opacity="0.550"/>
<rect x="413" y="244" width="1" height="148" fill="#000" fill-opacity="0.050"/>
<rect x="414" y="244" width="1" height="148" fill="#000"/>
<rect x="415" y="244" width="1" height="148" fill="#000" fill-opacity="0.050"/>
<rect x="681" y="244" width="1" height="148" fill="#000" fill-opacity="0.050"/>
<rect x="682" y="244" width="1" height="148" fill="#000"/>
<rect x="683" y="244" width="1" height="148" fill="#000" fill-opacity="0.050"/>
<rect x="411" y="384" width="2.95" height="1" fill="#000" fill-opacity="0.300"/>
<rect x="411" y="385" width="2.95" height="1" fill="#000" fill-opacity="0.300"/>
<rect x="683.05" y="384" width="2.95" height="1" fill="#000" fill-opacity="0.300"/>
<rect x="683.05" y="385" width="2.95" height="1" fill="#000" fill-opacity="0.300"/>
<rect x="411" y="378" width="2.95" height="1" fill="#000" fill-opacity="0.600"/>
<rect x="683.05" y="378" width="2.95" height="1" fill="#000" fill-opacity="0.600"/>
<rect x="407.5" y="371" width="6.45" height="1" fill="#000" fill-opacity="0.900"/>
<rect x="407.5" y="372" width="6.45" height="1" fill="#000" fill-opacity="0.100"/>
<rect x="683.05" y="371" width="6.45" height="1" fill="#000" fill-opacity="0.900"/>
<rect x="683.05" y="372" width="6.45" height="1" fill="#000" fill-opacity="0.100"/>
<rect x="411" y="364" width="2.95" height="1" fill="#000" fill-opacity="0.400"/>
<rect x="411" y="365" width="2.95" height="1" fill="#000" fill-opacity="0.200"/>
<rect x="683.05" y="364" width="2.95" height="1" fill="#000" fill-opacity="0.400"/>
<rect x="683.05" y="365" width="2.95" height="1" fill="#000" fill-opacity="0.200"/>
<rect x="411" y="357" width="2.95" height="1" fill="#000" fill-opacity="0.100"/>
<rect x="411" y="358" width="2.95" height="1" fill="#000" fill-opacity="0.500"/>
<rect x="683.05" y="357" width="2.95" height="1" fill="#000" fill-opacity="0.100"/>
<rect x="683.05" y="358" width="2.95" height="1" fill="#000" fill-opacity="0.500"/>
<rect x="411" y="351" width="2.95" height="1" fill="#000" fill-opacity="0.600"/>
<rect x="683.05" y="351" width="2.95" height="1" fill="#000" fill-opacity="0.600"/>
<rect x="407.5" y="344" width="6.45" height="1" fill="#000" fill-opacity="0.700"/>
<rect x="407.5" y="345" width="6.45" height="1" fill="#000" fill-opacity="0.300"/>
<rect x="683.05" y="344" width="6.45" height="1" fill="#000" fill-opacity="0.700"/>
<rect x="683.05" y="345" width="6.45" height="1" fill="#000" fill-opacity="0.300"/>
<rect x="411" y="337" width="2.95" height="1" fill="#000" fill-opacity="0.200"/>
<rect x="411" y="338" width="2.95" height="1" fill="#000" fill-opacity="0.400"/>
<rect x="683.05" y="337" width="2.95" height="1" fill="#000" fill-opacity="0.200"/>
<rect x="683.05" y="338" width="2.95" height="1" fill="#000" fill-opacity="0.400"/>
<rect x="411" y="331" width="2.95" height="1" fill="#000" fill-opacity="0.600"/>
<rect x="683.05" y="331" width="2.95" height="1" fill="#000" fill-opacity="0.600"/>
<rect x="411" y="324" width="2.95" height="1" fill="#000" fill-opacity="0.600"/>
<rect x="683.05" y="324" width="2.95" height="1" fill="#000" fill-opacity="0.600"/>
<rect x="407.5" y="317" width="6.45" height="1" fill="#000" fill-opacity="0.500"/>
<rect x="407.5" y="318" width="6.45" height="1" fill="#000" fill-opacity="0.500"/>
<rect x="683.05" y="317" width="6.45" height="1" fill="#000" fill-opacity="0.500"/>
<rect x="683.05" y="318" width="6.45" height="1" fill="#000" fill-opacity="0.500"/>
<rect x="411" y="311" width="2.95" height="1" fill="#000" fill-opacity="0.600"/>
<rect x="683.05" y="311" width="2.95" height="1" fill="#000" fill-opacity="0.600"/>
<rect x="411" y="304" width="2.95" height="1" fill="#000" fill-opacity="0.600"/>
<rect x="683.05" y="304" width="2.95" height="1" fill="#000" fill-opacity="0.600"/>
<rect x="411" y="297" width="2.95" height="1" fill="#000" fill-opacity="0.400"/>
<rect x="411" y="298" width="2.95" height="1" fill="#000" fill-opacity="0.200"/>
<rect x="683.05" y="297" width="2.95" height="1" fill="#000" fill-opacity="0.400"/>
<rect x="683.05" y="298" width="2.95" height="1" fill="#000" fill-opacity="0.200"/>
<rect x="407.5" y="290" width="6.45" height="1" fill="#000" fill-opacity="0.300"/>
<rect x="407.5" y="291" width="6.45" height="1" fill="#000" fill-opacity="0.700"/>
<rect x="683.05" y="290" width="6.45" height="1" fill="#000" fill-opacity="0.300"/>
<rect x="683.05" y="291" width="6.45" height="1" fill="#000" fill-opacity="0.700"/>
<rect x="411" y="284" width="2.95" height="1" fill="#000" fill-opacity="0.600"/>
<rect x="683.05" y="284" width="2.95" height="1" fill="#000" fill-opacity="0.600"/>
<rect x="411" y="277" width="2.95" height="1" fill="#000" fill-opacity="0.500"/>
<rect x="411" y="278" width="2.95" height="1" fill="#000" fill-opacity="0.100"/>
<rect x="683.05" y="277" width="2.95" height="1" fill="#000" fill-opacity="0.500"/>
<rect x="683.05" y="278" width="2.95" height="1" fill="#000" fill-opacity="0.100"/>
<rect x="411" y="270" width="2.95" height="1" fill="#000" fill-opacity="0.200"/>
<rect x="411" y="271" width="2.95" height="1" fill="#000" fill-opacity="0.400"/>
<rect x="683.05" y="270" width="2.95" height="1" fill="#000" fill-opacity="0.200"/>
<rect x="683.05" y="271" width="2.95" height="1" fill="#000" fill-opacity="0.400"/>
<rect x="407.5" y="263" width="6.45" height="1" fill="#000" fill-opacity="0.100"/>
<rect x="407.5" y="264" width="6.45" height="1" fill="#000" fill-opacity="0.900"/>
<rect x="683.05" y="263" width="6.45" height="1" fill="#000" fill-opacity="0.100"/>
<rect x="683.05" y="264" width="6.45" height="1" fill="#000" fill-opacity="0.900"/>
<rect x="411" y="257" width="2.95" height="1" fill="#000" fill-opacity="0.600"/>
<rect x="683.05" y="257" width="2.95" height="1" fill="#000" fill-opacity="0.600"/>
<rect x="411" y="250" width="2.95" height="1" fill="#000" fill-opacity="0.300"/>
<rect x="411" y="251" width="2.95" height="1" fill="#000" fill-opacity="0.300"/>
<rect x="683.05" y="250" width="2.95" height="1" fill="#000" fill-opacity="0.300"/>
<rect x="683.05" y="251" width="2.95" height="1" fill="#000" fill-opacity="0.300"/>
<rect x="452" y="244" width="1" height="6.45" fill="#000" fill-opacity="0.714"/>
<rect x="453" y="244" width="1" height="6.45" fill="#000" fill-opacity="0.286"/>
<rect x="452" y="385.55" width="1" height="6.45" fill="#000" fill-opacity="0.714"/>
<rect x="453" y="385.55" width="1" height="6.45" fill="#000" fill-opacity="0.286"/>
<rect x="490" y="244" width="1" height="6.45" fill="#000" fill-opacity="0.429"/>
<rect x="491" y="244" width="1" height="6.45" fill="#000" fill-opacity="0.571"/>
<rect x="490" y="385.55" width="1" height="6.45" fill="#000" fill-opacity="0.429"/>
<rect x="491" y="385.55" width="1" height="6.45" fill="#000" fill-opacity="0.571"/>
<rect x="528" y="244" width="1" height="6.45" fill="#000" fill-opacity="0.143"/>
<rect x="529" y="244" width="1" height="6.45" fill="#000" fill-opacity="0.857"/>
<rect x="528" y="385.55" width="1" height="6.45" fill="#000" fill-opacity="0.143"/>
<rect x="529" y="385.55" width="1" height="6.45" fill="#000" fill-opacity="0.857"/>
<rect x="567" y="244" width="1" height="6.45" fill="#000" fill-opacity="0.857"/>
<rect x="568" y="244" width="1" height="6.45" fill="#000" fill-opacity="0.143"/>
<rect x="567" y="385.55" width="1" height="6.45" fill="#000" fill-opacity="0.857"/>
<rect x="568" y="385.55" width="1" height="6.45" fill="#000" fill-opacity="0.143"/>
<rect x="605" y="244" width="1" height="6.45" fill="#000" fill-opacity="0.571"/>
<rect x="606" y="244" width="1" height="6.45" fill="#000" fill-opacity="0.429"/>
<rect x="605" y="385.55" width="1" height="6.45" fill="#000" fill-opacity="0.571"/>
<rect x="606" y="385.55" width="1" height="6.45" fill="#000" fill-opacity="0.429"/>
<rect x="643" y="244" width="1" height="6.45" fill="#000" fill-opacity="0.286"/>
<rect x="644" y="244" width="1" height="6.45" fill="#000" fill-opacity="0.714"/>
<rect x="643" y="385.55" width="1" height="6.45" fill="#000" fill-opacity="0.286"/>
<rect x="644" y="385.55" width="1" height="6.45" fill="#000" fill-opacity="0.714"/>
<rect x="415.05" y="317" width="252.95" height="1" fill="#f00" fill-opacity="0.525"/>
<rect x="415.05" y="318" width="252.95" height="1" fill="#f00" fill-opacity="0.525"/>
<rect x="415.05" y="317" width="4.75" height="1" fill="#00f" fill-opacity="0.525"/>
<rect x="415.05" y="318" width="4.75" height="1" fill="#00f" fill-opacity="0.525"/>
<rect x="423.957" y="317" width="5.8" height="1" fill="#00f" fill-opacity="0.525"/>
<rect x="423.957" y="318" width="5.8" height="1" fill="#00f" fill-opacity="0.525"/>
<rect x="433.914" y="317" width="5.8" height="1" fill="#00f" fill-opacity="0.525"/>
<rect x="433.914" y="318" width="5.8" height="1" fill="#00f" fill-opacity="0.525"/>
<rect x="443.871" y="317" width="5.8" height="1" fill="#00f" fill-opacity="0.525"/>
<rect x="443.871" y="318" width="5.8" height="1" fill="#00f" fill-opacity="0.525"/>
<rect x="453.828" y="317" width="5.8" height="1" fill="#00f" fill-opacity="0.525"/>
<rect x="453.828" y="318" width="5.8" height="1" fill="#00f" fill-opacity="0.525"/>
<rect x="463.785" y="317" width="5.8" height="1" fill="#00f" fill-opacity="0.525"/>
<rect x="463.785" y="318" width="5.8" height="1" fill="#00f" fill-opacity="0.525"/>
<rect x="473.742" y="317" width="5.8" height="1" fill="#00f" fill-opacity="0.525"/>
<rect x="473.742" y="318" width="5.8" height="1" fill="#00f" fill-opacity="0.525"/>
<rect x="483.699" y="317" width="5.8" height="1" fill="#00f" fill-opacity="0.525"/>
<rect x="483.699" y="318" width="5.8" height="1" fill="#00f" fill-opacity="0.525"/>
<rect x="493.656" y="317" width="5.8" height="1" fill="#00f" fill-opacity="0.525"/>
<rect x="493.656" y="318" width="5.8" height="1" fill="#00f" fill-opacity="0.525"/>
<rect x="503.613" y="317" width="5.8" height="1" fill="#00f" fill-opacity="0.525"/>
<rect x="503.613" y="318" width="5.8" height="1" fill="#00f" fill-opacity="0.525"/>
<rect x="513.57" y="317" width="5.8" height="1" fill="#00f" fill-opacity="0.525"/>
<rect x="513.57" y="318" width="5.8" height="1" fill="#00f" fill-opacity="0.525"/>
<rect x="523.527" y="317" width="5.8" height="1" fill="#00f" fill-opacity="0.525"/>
<rect x="523.527" y="318" width="5.8" height="1" fill="#00f" fill-opacity="0.525"/>
<rect x="533.484" y="317" width="5.8" height="1" fill="#00f" fill-opacity="0.525"/>
<rect x="533.484" y="318" width="5.8" height="1" fill="#00f" fill-opacity="0.525"/>
<rect x="543.441" y="317" width="5.8" height="1" fill="#00f" fill-opacity="0.525"/>
<rect x="543.441" y="318" width="5.8" height="1" fill="#00f" fill-opacity="0.525"/>
<rect x="553.398" y="317" width="5.8" height="1" fill="#00f" fill-opacity="0.525"/>
<rect x="553.398" y="318" width="5.8" height="1" fill="#00f" fill-opacity="0.525"/>
<rect x="563.355" y="317" width="5.8" height="1" fill="#00f" fill-opacity="0.525"/>
<rect x="563.355" y="318" width="5.8" height="1" fill="#00f" fill-opacity="0.525"/>
<rect x="573.312" y="317" width="5.8" height="1" fill="#00f" fill-opacity="0.525"/>
<rect x="573.312" y="318" width="5.8" height="1" fill="#00f" fill-opacity="0.525"/>
<rect x="583.269" y="317" width="5.8" height="1" fill="#00f" fill-opacity="0.525"/>
<rect x="583.269" y="318" width="5.8" height="1" fill="#00f" fill-opacity="0.525"/>
<rect x="593.226" y="317" width="5.8" height="1" fill="#00f" fill-opacity="0.525"/>
<rect x="593.226" y="318" width="5.8" height="1" fill="#00f" fill-opacity="0.525"/>
<rect x="603.183" y="317" width="5.8" height="1" fill="#00f" fill-opacity="0.525"/>
<rect x="603.183" y="318" width="5.8" height="1" fill="#00f" fill-opacity="0.525"/>
<rect x="613.14" y="317" width="5.8" height="1" fill="#00f" fill-opacity="0.525"/>
<rect x="613.14" y="318" width="5.8" height="1" fill="#00f" fill-opacity="0.525"/>
<rect x="623.097" y="317" width="5.8" height="1" fill="#00f" fill-opacity="0.525"/>
<rect x="623.097" y="318" width="5.8" height="1" fill="#00f" fill-opacity="0.525"/>
<rect x="633.054" y="317" width="5.8" height="1" fill="#00f" fill-opacity="0.525"/>
<rect x="633.054" y="318" width="5.8" height="1" fill="#00f" fill-opacity="0.525"/>
<rect x="643.011" y="317" width="5.8" height="1" fill="#00f" fill-opacity="0.525"/>
<rect x="643.011" y="318" width="5.8" height="1" fill="#00f" fill-opacity="0.525"/>
<rect x="652.968" y="317" width="5.8" height="1" fill="#00f" fill-opacity="0.525"/>
<rect x="652.968" y="318" width="5.8" height="1" fill="#00f" fill-opacity="0.525"/>
<rect x="662.925" y="317" width="5.075" height="1" fill="#00f" fill-opacity="0.525"/>
<rect x="662.925" y="318" width="5.075" height="1" fill="#00f" fill-opacity="0.525"/>
<text transform="translate(398.1 269.2) skewY(0.05) scale(0.99 1.09)" text-anchor="end" font-size="13.3">0.8</text>
<text transform="translate(398.1 296) skewY(0.05) scale(0.99 1.09)" text-anchor="end" font-size="13.3">0.4</text>
<text transform="translate(398.1 322.8) skewY(0.05) scale(0.99 1.09)" text-anchor="end" font-size="13.3">0.0</text>
<text transform="translate(398.1 349.6) skewY(0.05) scale(0.99 1.09)" text-anchor="end" font-size="13.3">-<tspan dx="0.9">0.4</tspan></text>
<text transform="translate(398.1 376.4) skewY(0.05) scale(0.99 1.09)" text-anchor="end" font-size="13.3">-<tspan dx="0.9">0.8</tspan></text>
<text transform="translate(414.5 410.8) skewY(0.05) scale(0.99 1.09)" text-anchor="middle" font-size="13.3">2015</text>
<text transform="translate(452.786 410.8) skewY(0.05) scale(0.99 1.09)" text-anchor="middle" font-size="13.3">2020</text>
<text transform="translate(491.071 410.8) skewY(0.05) scale(0.99 1.09)" text-anchor="middle" font-size="13.3">2025</text>
<text transform="translate(529.357 410.8) skewY(0.05) scale(0.99 1.09)" text-anchor="middle" font-size="13.3">2030</text>
<text transform="translate(567.643 410.8) skewY(0.05) scale(0.99 1.09)" text-anchor="middle" font-size="13.3">2035</text>
<text transform="translate(605.929 410.8) skewY(0.05) scale(0.99 1.09)" text-anchor="middle" font-size="13.3">2040</text>
<text transform="translate(644.214 410.8) skewY(0.05) scale(0.99 1.09)" text-anchor="middle" font-size="13.3">2045</text>
<text transform="translate(682.5 410.8) skewY(0.05) scale(0.99 1.09)" text-anchor="middle" font-size="13.3">2050</text>
<text transform="translate(548.5 243.5) skewY(0.05) scale(1.0 1.07)" text-anchor="middle" font-size="13.8">PFT-Level Fire N Loss</text>
<text transform="translate(363.6 318) rotate(-90) skewY(0.05) scale(1.0 1.07)" text-anchor="middle" font-size="14.0">gN/m^2/d</text>
<rect x="65.05" y="431" width="266.9" height="1" fill="#000" fill-opacity="0.450"/>
<rect x="65.05" y="432" width="266.9" height="1" fill="#000" fill-opacity="0.650"/>
<rect x="65.05" y="565" width="266.9" height="1" fill="#000" fill-opacity="0.450"/>
<rect x="65.05" y="566" width="266.9" height="1" fill="#000" fill-opacity="0.650"/>
<rect x="63" y="425.1" width="1" height="148" fill="#000" fill-opacity="0.050"/>
<rect x="64" y="425.1" width="1" height="148" fill="#000"/>
<rect x="65" y="425.1" width="1" height="148" fill="#000" fill-opacity="0.050"/>
<rect x="331" y="425.1" width="1" height="148" fill="#000" fill-opacity="0.050"/>
<rect x="332" y="425.1" width="1" height="148" fill="#000"/>
<rect x="333" y="425.1" width="1" height="148" fill="#000" fill-opacity="0.050"/>
<rect x="61" y="565" width="2.95" height="1" fill="#000" fill-opacity="0.200"/>
<rect x="61" y="566" width="2.95" height="1" fill="#000" fill-opacity="0.400"/>
<rect x="333.05" y="565" width="2.95" height="1" fill="#000" fill-opacity="0.200"/>
<rect x="333.05" y="566" width="2.95" height="1" fill="#000" fill-opacity="0.400"/>
<rect x="61" y="559" width="2.95" height="1" fill="#000" fill-opacity="0.600"/>
<rect x="333.05" y="559" width="2.95" height="1" fill="#000" fill-opacity="0.600"/>
<rect x="57.5" y="552" width="6.45" height="1" fill="#000" fill-opacity="0.800"/>
<rect x="57.5" y="553" width="6.45" height="1" fill="#000" fill-opacity="0.200"/>
<rect x="333.05" y="552" width="6.45" height="1" fill="#000" fill-opacity="0.800"/>
<rect x="333.05" y="553" width="6.45" height="1" fill="#000" fill-opacity="0.200"/>
<rect x="61" y="545" width="2.95" height="1" fill="#000" fill-opacity="0.300"/>
<rect x="61" y="546" width="2.95" height="1" fill="#000" fill-opacity="0.300"/>
<rect x="333.05" y="545" width="2.95" height="1" fill="#000" fill-opacity="0.300"/>
<rect x="333.05" y="546" width="2.95" height="1" fill="#000" fill-opacity="0.300"/>
<rect x="61" y="539" width="2.95" height="1" fill="#000" fill-opacity="0.600"/>
<rect x="333.05" y="539" width="2.95" height="1" fill="#000" fill-opacity="0.600"/>
<rect x="61" y="532" width="2.95" height="1" fill="#000" fill-opacity="0.600"/>
<rect x="333.05" y="532" width="2.95" height="1" fill="#000" fill-opacity="0.600"/>
<rect x="57.5" y="525" width="6.45" height="1" fill="#000" fill-opacity="0.600"/>
<rect x="57.5" y="526" width="6.45" height="1" fill="#000" fill-opacity="0.400"/>
<rect x="333.05" y="525" width="6.45" height="1" fill="#000" fill-opacity="0.600"/>
<rect x="333.05" y="526" width="6.45" height="1" fill="#000" fill-opacity="0.400"/>
<rect x="61" y="518" width="2.95" height="1" fill="#000" fill-opacity="0.100"/>
<rect x="61" y="519" width="2.95" height="1" fill="#000" fill-opacity="0.500"/>
<rect x="333.05" y="518" width="2.95" height="1" fill="#000" fill-opacity="0.100"/>
<rect x="333.05" y="519" width="2.95" height="1" fill="#000" fill-opacity="0.500"/>
<rect x="61" y="512" width="2.95" height="1" fill="#000" fill-opacity="0.600"/>
<rect x="333.05" y="512" width="2.95" height="1" fill="#000" fill-opacity="0.600"/>
<rect x="61" y="505" width="2.95" height="1" fill="#000" fill-opacity="0.500"/>
<rect x="61" y="506" width="2.95" height="1" fill="#000" fill-opacity="0.100"/>
<rect x="333.05" y="505" width="2.95" height="1" fill="#000" fill-opacity="0.500"/>
<rect x="333.05" y="506" width="2.95" height="1" fill="#000" fill-opacity="0.100"/>
<rect x="57.5" y="498" width="6.45" height="1" fill="#000" fill-opacity="0.400"/>
<rect x="57.5" y="499" width="6.45" height="1" fill="#000" fill-opacity="0.600"/>
<rect x="333.05" y="498" width="6.45" height="1" fill="#000" fill-opacity="0.400"/>
<rect x="333.05" y="499" width="6.45" height="1" fill="#000" fill-opacity="0.600"/>
<rect x="61" y="492" width="2.95" height="1" fill="#000" fill-opacity="0.600"/>
<rect x="333.05" y="492" width="2.95" height="1" fill="#000" fill-opacity="0.600"/>
<rect x="61" y="485" width="2.95" height="1" fill="#000" fill-opacity="0.600"/>
<rect x="333.05" y="485" width="2.95" height="1" fill="#000" fill-opacity="0.600"/>
<rect x="61" y="478" width="2.95" height="1" fill="#000" fill-opacity="0.300"/>
<rect x="61" y="479" width="2.95" height="1" fill="#000" fill-opacity="0.300"/>
<rect x="333.05" y="478" width="2.95" height="1" fill="#000" fill-opacity="0.300"/>
<rect x="333.05" y="479" width="2.95" height="1" fill="#000" fill-opacity="0.300"/>
<rect x="57.5" y="471" width="6.45" height="1" fill="#000" fill-opacity="0.200"/>
<rect x="57.5" y="472" width="6.45" height="1" fill="#000" fill-opacity="0.800"/>
<rect x="333.05" y="471" width="6.45" height="1" fill="#000" fill-opacity="0.200"/>
<rect x="333.05" y="472" width="6.45" height="1" fill="#000" fill-opacity="0.800"/>
<rect x="61" y="465" width="2.95" height="1" fill="#000" fill-opacity="0.600"/>
<rect x="333.05" y="465" width="2.95" height="1" fill="#000" fill-opacity="0.600"/>
<rect x="61" y="458" width="2.95" height="1" fill="#000" fill-opacity="0.400"/>
<rect x="61" y="459" width="2.95" height="1" fill="#000" fill-opacity="0.200"/>
<rect x="333.05" y="458" width="2.95" height="1" fill="#000" fill-opacity="0.400"/>
<rect x="333.05" y="459" width="2.95" height="1" fill="#000" fill-opacity="0.200"/>
<rect x="61" y="451" width="2.95" height="1" fill="#000" fill-opacity="0.100"/>
<rect x="61" y="452" width="2.95" height="1" fill="#000" fill-opacity="0.500"/>
<rect x="333.05" y="451" width="2.95" height="1" fill="#000" fill-opacity="0.100"/>
<rect x="333.05" y="452" width="2.95" height="1" fill="#000" fill-opacity="0.500"/>
<rect x="57.5" y="445" width="6.45" height="1" fill="#000"/>
<rect x="333.05" y="445" width="6.45" height="1" fill="#000"/>
<rect x="61" y="438" width="2.95" height="1" fill="#000" fill-opacity="0.500"/>
<rect x="61" y="439" width="2.95" height="1" fill="#000" fill-opacity="0.100"/>
<rect x="333.05" y="438" width="2.95" height="1" fill="#000" fill-opacity="0.500"/>
<rect x="333.05" y="439" width="2.95" height="1" fill="#000" fill-opacity="0.100"/>
<rect x="61" y="431" width="2.95" height="1" fill="#000" fill-opacity="0.200"/>
<rect x="61" y="432" width="2.95" height="1" fill="#000" fill-opacity="0.400"/>
<rect x="333.05" y="431" width="2.95" height="1" fill="#000" fill-opacity="0.200"/>
<rect x="333.05" y="432" width="2.95" height="1" fill="#000" fill-opacity="0.400"/>
<rect x="102" y="425.1" width="1" height="6.45" fill="#000" fill-opacity="0.714"/>
<rect x="103" y="425.1" width="1" height="6.45" fill="#000" fill-opacity="0.286"/>
<rect x="102" y="566.65" width="1" height="6.45" fill="#000" fill-opacity="0.714"/>
<rect x="103" y="566.65" width="1" height="6.45" fill="#000" fill-opacity="0.286"/>
<rect x="140" y="425.1" width="1" height="6.45" fill="#000" fill-opacity="0.429"/>
<rect x="141" y="425.1" width="1" height="6.45" fill="#000" fill-opacity="0.571"/>
<rect x="140" y="566.65" width="1" height="6.45" fill="#000" fill-opacity="0.429"/>
<rect x="141" y="566.65" width="1" height="6.45" fill="#000" fill-opacity="0.571"/>
<rect x="178" y="425.1" width="1" height="6.45" fill="#000" fill-opacity="0.143"/>
<rect x="179" y="425.1" width="1" height="6.45" fill="#000" fill-opacity="0.857"/>
<rect x="178" y="566.65" width="1" height="6.45" fill="#000" fill-opacity="0.143"/>
<rect x="179" y="566.65" width="1" height="6.45" fill="#000" fill-opacity="0.857"/>
<rect x="217" y="425.1" width="1" height="6.45" fill="#000" fill-opacity="0.857"/>
<rect x="218" y="425.1" width="1" height="6.45" fill="#000" fill-opacity="0.143"/>
<rect x="217" y="566.65" width="1" height="6.45" fill="#000" fill-opacity="0.857"/>
<rect x="218" y="566.65" width="1" height="6.45" fill="#000" fill-opacity="0.143"/>
<rect x="255" y="425.1" width="1" height="6.45" fill="#000" fill-opacity="0.571"/>
<rect x="256" y="425.1" width="1" height="6.45" fill="#000" fill-opacity="0.429"/>
<rect x="255" y="566.65" width="1" height="6.45" fill="#000" fill-opacity="0.571"/>
<rect x="256" y="566.65" width="1" height="6.45" fill="#000" fill-opacity="0.429"/>
<rect x="293" y="425.1" width="1" height="6.45" fill="#000" fill-opacity="0.286"/>
<rect x="294" y="425.1" width="1" height="6.45" fill="#000" fill-opacity="0.714"/>
<rect x="293" y="566.65" width="1" height="6.45" fill="#000" fill-opacity="0.286"/>
<rect x="294" y="566.65" width="1" height="6.45" fill="#000" fill-opacity="0.714"/>
<rect x="65.05" y="498" width="252.95" height="1" fill="#f00" fill-opacity="0.425"/>
<rect x="65.05" y="499" width="252.95" height="1" fill="#f00" fill-opacity="0.625"/>
<rect x="65.05" y="498" width="4.75" height="1" fill="#00f" fill-opacity="0.425"/>
<rect x="65.05" y="499" width="4.75" height="1" fill="#00f" fill-opacity="0.625"/>
<rect x="73.957" y="498" width="5.8" height="1" fill="#00f" fill-opacity="0.425"/>
<rect x="73.957" y="499" width="5.8" height="1" fill="#00f" fill-opacity="0.625"/>
<rect x="83.914" y="498" width="5.8" height="1" fill="#00f" fill-opacity="0.425"/>
<rect x="83.914" y="499" width="5.8" height="1" fill="#00f" fill-opacity="0.625"/>
<rect x="93.871" y="498" width="5.8" height="1" fill="#00f" fill-opacity="0.425"/>
<rect x="93.871" y="499" width="5.8" height="1" fill="#00f" fill-opacity="0.625"/>
<rect x="103.828" y="498" width="5.8" height="1" fill="#00f" fill-opacity="0.425"/>
<rect x="103.828" y="499" width="5.8" height="1" fill="#00f" fill-opacity="0.625"/>
<rect x="113.785" y="498" width="5.8" height="1" fill="#00f" fill-opacity="0.425"/>
<rect x="113.785" y="499" width="5.8" height="1" fill="#00f" fill-opacity="0.625"/>
<rect x="123.742" y="498" width="5.8" height="1" fill="#00f" fill-opacity="0.425"/>
<rect x="123.742" y="499" width="5.8" height="1" fill="#00f" fill-opacity="0.625"/>
<rect x="133.699" y="498" width="5.8" height="1" fill="#00f" fill-opacity="0.425"/>
<rect x="133.699" y="499" width="5.8" height="1" fill="#00f" fill-opacity="0.625"/>
<rect x="143.656" y="498" width="5.8" height="1" fill="#00f" fill-opacity="0.425"/>
<rect x="143.656" y="499" width="5.8" height="1" fill="#00f" fill-opacity="0.625"/>
<rect x="153.613" y="498" width="5.8" height="1" fill="#00f" fill-opacity="0.425"/>
<rect x="153.613" y="499" width="5.8" height="1" fill="#00f" fill-opacity="0.625"/>
<rect x="163.57" y="498" width="5.8" height="1" fill="#00f" fill-opacity="0.425"/>
<rect x="163.57" y="499" width="5.8" height="1" fill="#00f" fill-opacity="0.625"/>
<rect x="173.527" y="498" width="5.8" height="1" fill="#00f" fill-opacity="0.425"/>
<rect x="173.527" y="499" width="5.8" height="1" fill="#00f" fill-opacity="0.625"/>
<rect x="183.484" y="498" width="5.8" height="1" fill="#00f" fill-opacity="0.425"/>
<rect x="183.484" y="499" width="5.8" height="1" fill="#00f" fill-opacity="0.625"/>
<rect x="193.441" y="498" width="5.8" height="1" fill="#00f" fill-opacity="0.425"/>
<rect x="193.441" y="499" width="5.8" height="1" fill="#00f" fill-opacity="0.625"/>
<rect x="203.398" y="498" width="5.8" height="1" fill="#00f" fill-opacity="0.425"/>
<rect x="203.398" y="499" width="5.8" height="1" fill="#00f" fill-opacity="0.625"/>
<rect x="213.355" y="498" width="5.8" height="1" fill="#00f" fill-opacity="0.425"/>
<rect x="213.355" y="499" width="5.8" height="1" fill="#00f" fill-opacity="0.625"/>
<rect x="223.312" y="498" width="5.8" height="1" fill="#00f" fill-opacity="0.425"/>
<rect x="223.312" y="499" width="5.8" height="1" fill="#00f" fill-opacity="0.625"/>
<rect x="233.269" y="498" width="5.8" height="1" fill="#00f" fill-opacity="0.425"/>
<rect x="233.269" y="499" width="5.8" height="1" fill="#00f" fill-opacity="0.625"/>
<rect x="243.226" y="498" width="5.8" height="1" fill="#00f" fill-opacity="0.425"/>
<rect x="243.226" y="499" width="5.8" height="1" fill="#00f" fill-opacity="0.625"/>
<rect x="253.183" y="498" width="5.8" height="1" fill="#00f" fill-opacity="0.425"/>
<rect x="253.183" y="499" width="5.8" height="1" fill="#00f" fill-opacity="0.625"/>
<rect x="263.14" y="498" width="5.8" height="1" fill="#00f" fill-opacity="0.425"/>
<rect x="263.14" y="499" width="5.8" height="1" fill="#00f" fill-opacity="0.625"/>
<rect x="273.097" y="498" width="5.8" height="1" fill="#00f" fill-opacity="0.425"/>
<rect x="273.097" y="499" width="5.8" height="1" fill="#00f" fill-opacity="0.625"/>
<rect x="283.054" y="498" width="5.8" height="1" fill="#00f" fill-opacity="0.425"/>
<rect x="283.054" y="499" width="5.8" height="1" fill="#00f" fill-opacity="0.625"/>
<rect x="293.011" y="498" width="5.8" height="1" fill="#00f" fill-opacity="0.425"/>
<rect x="293.011" y="499" width="5.8" height="1" fill="#00f" fill-opacity="0.625"/>
<rect x="302.968" y="498" width="5.8" height="1" fill="#00f" fill-opacity="0.425"/>
<rect x="302.968" y="499" width="5.8" height="1" fill="#00f" fill-opacity="0.625"/>
<rect x="312.925" y="498" width="5.075" height="1" fill="#00f" fill-opacity="0.425"/>
<rect x="312.925" y="499" width="5.075" height="1" fill="#00f" fill-opacity="0.625"/>
<text transform="translate(48.1 450.3) skewY(0.05) scale(0.99 1.09)" text-anchor="end" font-size="13.3">0.8</text>
<text transform="translate(48.1 477.1) skewY(0.05) scale(0.99 1.09)" text-anchor="end" font-size="13.3">0.4</text>
<text transform="translate(48.1 503.9) skewY(0.05) scale(0.99 1.09)" text-anchor="end" font-size="13.3">0.0</text>
<text transform="translate(48.1 530.7) skewY(0.05) scale(0.99 1.09)" text-anchor="end" font-size="13.3">-<tspan dx="0.9">0.4</tspan></text>
<text transform="translate(48.1 557.5) skewY(0.05) scale(0.99 1.09)" text-anchor="end" font-size="13.3">-<tspan dx="0.9">0.8</tspan></text>
<text transform="translate(64.5 591.9) skewY(0.05) scale(0.99 1.09)" text-anchor="middle" font-size="13.3">2015</text>
<text transform="translate(102.786 591.9) skewY(0.05) scale(0.99 1.09)" text-anchor="middle" font-size="13.3">2020</text>
<text transform="translate(141.071 591.9) skewY(0.05) scale(0.99 1.09)" text-anchor="middle" font-size="13.3">2025</text>
<text transform="translate(179.357 591.9) skewY(0.05) scale(0.99 1.09)" text-anchor="middle" font-size="13.3">2030</text>
<text transform="translate(217.643 591.9) skewY(0.05) scale(0.99 1.09)" text-anchor="middle" font-size="13.3">2035</text>
<text transform="translate(255.929 591.9) skewY(0.05) scale(0.99 1.09)" text-anchor="middle" font-size="13.3">2040</text>
<text transform="translate(294.214 591.9) skewY(0.05) scale(0.99 1.09)" text-anchor="middle" font-size="13.3">2045</text>
<text transform="translate(332.5 591.9) skewY(0.05) scale(0.99 1.09)" text-anchor="middle" font-size="13.3">2050</text>
<text transform="translate(198.5 424.6) skewY(0.05) scale(1.0 1.07)" text-anchor="middle" font-size="13.8">Fractional Area Burned</text>
<text transform="translate(13.6 499.1) rotate(-90) skewY(0.05) scale(1.0 1.07)" text-anchor="middle" font-size="14.0">proportion/y</text>
<rect x="415.05" y="431" width="266.9" height="1" fill="#000" fill-opacity="0.450"/>
<rect x="415.05" y="432" width="266.9" height="1" fill="#000" fill-opacity="0.650"/>
<rect x="415.05" y="565" width="266.9" height="1" fill="#000" fill-opacity="0.450"/>
<rect x="415.05" y="566" width="266.9" height="1" fill="#000" fill-opacity="0.650"/>
<rect x="413" y="425.1" width="1" height="148" fill="#000" fill-opacity="0.050"/>
<rect x="414" y="425.1" width="1" height="148" fill="#000"/>
<rect x="415" y="425.1" width="1" height="148" fill="#000" fill-opacity="0.050"/>
<rect x="681" y="425.1" width="1" height="148" fill="#000" fill-opacity="0.050"/>
<rect x="682" y="425.1" width="1" height="148" fill="#000"/>
<rect x="683" y="425.1" width="1" height="148" fill="#000" fill-opacity="0.050"/>
<rect x="411" y="565" width="2.95" height="1" fill="#000" fill-opacity="0.200"/>
<rect x="411" y="566" width="2.95" height="1" fill="#000" fill-opacity="0.400"/>
<rect x="683.05" y="565" width="2.95" height="1" fill="#000" fill-opacity="0.200"/>
<rect x="683.05" y="566" width="2.95" height="1" fill="#000" fill-opacity="0.400"/>
<rect x="411" y="559" width="2.95" height="1" fill="#000" fill-opacity="0.600"/>
<rect x="683.05" y="559" width="2.95" height="1" fill="#000" fill-opacity="0.600"/>
<rect x="407.5" y="552" width="6.45" height="1" fill="#000" fill-opacity="0.800"/>
<rect x="407.5" y="553" width="6.45" height="1" fill="#000" fill-opacity="0.200"/>
<rect x="683.05" y="552" width="6.45" height="1" fill="#000" fill-opacity="0.800"/>
<rect x="683.05" y="553" width="6.45" height="1" fill="#000" fill-opacity="0.200"/>
<rect x="411" y="545" width="2.95" height="1" fill="#000" fill-opacity="0.300"/>
<rect x="411" y="546" width="2.95" height="1" fill="#000" fill-opacity="0.300"/>
<rect x="683.05" y="545" width="2.95" height="1" fill="#000" fill-opacity="0.300"/>
<rect x="683.05" y="546" width="2.95" height="1" fill="#000" fill-opacity="0.300"/>
<rect x="411" y="539" width="2.95" height="1" fill="#000" fill-opacity="0.600"/>
<rect x="683.05" y="539" width="2.95" height="1" fill="#000" fill-opacity="0.600"/>
<rect x="411" y="532" width="2.95" height="1" fill="#000" fill-opacity="0.600"/>
<rect x="683.05" y="532" width="2.95" height="1" fill="#000" fill-opacity="0.600"/>
<rect x="407.5" y="525" width="6.45" height="1" fill="#000" fill-opacity="0.600"/>
<rect x="407.5" y="526" width="6.45" height="1" fill="#000" fill-opacity="0.400"/>
<rect x="683.05" y="525" width="6.45" height="1" fill="#000" fill-opacity="0.600"/>
<rect x="683.05" y="526" width="6.45" height="1" fill="#000" fill-opacity="0.400"/>
<rect x="411" y="518" width="2.95" height="1" fill="#000" fill-opacity="0.100"/>
<rect x="411" y="519" width="2.95" height="1" fill="#000" fill-opacity="0.500"/>
<rect x="683.05" y="518" width="2.95" height="1" fill="#000" fill-opacity="0.100"/>
<rect x="683.05" y="519" width="2.95" height="1" fill="#000" fill-opacity="0.500"/>
<rect x="411" y="512" width="2.95" height="1" fill="#000" fill-opacity="0.600"/>
<rect x="683.05" y="512" width="2.95" height="1" fill="#000" fill-opacity="0.600"/>
<rect x="411" y="505" width="2.95" height="1" fill="#000" fill-opacity="0.500"/>
<rect x="411" y="506" width="2.95" height="1" fill="#000" fill-opacity="0.100"/>
<rect x="683.05" y="505" width="2.95" height="1" fill="#000" fill-opacity="0.500"/>
<rect x="683.05" y="506" width="2.95" height="1" fill="#000" fill-opacity="0.100"/>
<rect x="407.5" y="498" width="6.45" height="1" fill="#000" fill-opacity="0.400"/>
<rect x="407.5" y="499" width="6.45" height="1" fill="#000" fill-opacity="0.600"/>
<rect x="683.05" y="498" width="6.45" height="1" fill="#000" fill-opacity="0.400"/>
<rect x="683.05" y="499" width="6.45" height="1" fill="#000" fill-opacity="0.600"/>
<rect x="411" y="492" width="2.95" height="1" fill="#000" fill-opacity="0.600"/>
<rect x="683.05" y="492" width="2.95" height="1" fill="#000" fill-opacity="0.600"/>
<rect x="411" y="485" width="2.95" height="1" fill="#000" fill-opacity="0.600"/>
<rect x="683.05" y="485" width="2.95" height="1" fill="#000" fill-opacity="0.600"/>
<rect x="411" y="478" width="2.95" height="1" fill="#000" fill-opacity="0.300"/>
<rect x="411" y="479" width="2.95" height="1" fill="#000" fill-opacity="0.300"/>
<rect x="683.05" y="478" width="2.95" height="1" fill="#000" fill-opacity="0.300"/>
<rect x="683.05" y="479" width="2.95" height="1" fill="#000" fill-opacity="0.300"/>
<rect x="407.5" y="471" width="6.45" height="1" fill="#000" fill-opacity="0.200"/>
<rect x="407.5" y="472" width="6.45" height="1" fill="#000" fill-opacity="0.800"/>
<rect x="683.05" y="471" width="6.45" height="1" fill="#000" fill-opacity="0.200"/>
<rect x="683.05" y="472" width="6.45" height="1" fill="#000" fill-opacity="0.800"/>
<rect x="411" y="465" width="2.95" height="1" fill="#000" fill-opacity="0.600"/>
<rect x="683.05" y="465" width="2.95" height="1" fill="#000" fill-opacity="0.600"/>
<rect x="411" y="458" width="2.95" height="1" fill="#000" fill-opacity="0.400"/>
<rect x="411" y="459" width="2.95" height="1" fill="#000" fill-opacity="0.200"/>
<rect x="683.05" y="458" width="2.95" height="1" fill="#000" fill-opacity="0.400"/>
<rect x="683.05" y="459" width="2.95" height="1" fill="#000" fill-opacity="0.200"/>
<rect x="411" y="451" width="2.95" height="1" fill="#000" fill-opacity="0.100"/>
<rect x="411" y="452" width="2.95" height="1" fill="#000" fill-opacity="0.500"/>
<rect x="683.05" y="451" width="2.95" height="1" fill="#000" fill-opacity="0.100"/>
<rect x="683.05" y="452" width="2.95" height="1" fill="#000" fill-opacity="0.500"/>
<rect x="407.5" y="445" width="6.45" height="1" fill="#000"/>
<rect x="683.05" y="445" width="6.45" height="1" fill="#000"/>
<rect x="411" y="438" width="2.95" height="1" fill="#000" fill-opacity="0.500"/>
<rect x="411" y="439" width="2.95" height="1" fill="#000" fill-opacity="0.100"/>
<rect x="683.05" y="438" width="2.95" height="1" fill="#000" fill-opacity="0.500"/>
<rect x="683.05" y="439" width="2.95" height="1" fill="#000" fill-opacity="0.100"/>
<rect x="411" y="431" width="2.95" height="1" fill="#000" fill-opacity="0.200"/>
<rect x="411" y="432" width="2.95" height="1" fill="#000" fill-opacity="0.400"/>
<rect x="683.05" y="431" width="2.95" height="1" fill="#000" fill-opacity="0.200"/>
<rect x="683.05" y="432" width="2.95" height="1" fill="#000" fill-opacity="0.400"/>
<rect x="452" y="425.1" width="1" height="6.45" fill="#000" fill-opacity="0.714"/>
<rect x="453" y="425.1" width="1" height="6.45" fill="#000" fill-opacity="0.286"/>
<rect x="452" y="566.65" width="1" height="6.45" fill="#000" fill-opacity="0.714"/>
<rect x="453" y="566.65" width="1" height="6.45" fill="#000" fill-opacity="0.286"/>
<rect x="490" y="425.1" width="1" height="6.45" fill="#000" fill-opacity="0.429"/>
<rect x="491" y="425.1" width="1" height="6.45" fill="#000" fill-opacity="0.571"/>
<rect x="490" y="566.65" width="1" height="6.45" fill="#000" fill-opacity="0.429"/>
<rect x="491" y="566.65" width="1" height="6.45" fill="#000" fill-opacity="0.571"/>
<rect x="528" y="425.1" width="1" height="6.45" fill="#000" fill-opacity="0.143"/>
<rect x="529" y="425.1" width="1" height="6.45" fill="#000" fill-opacity="0.857"/>
<rect x="528" y="566.65" width="1" height="6.45" fill="#000" fill-opacity="0.143"/>
<rect x="529" y="566.65" width="1" height="6.45" fill="#000" fill-opacity="0.857"/>
<rect x="567" y="425.1" width="1" height="6.45" fill="#000" fill-opacity="0.857"/>
<rect x="568" y="425.1" width="1" height="6.45" fill="#000" fill-opacity="0.143"/>
<rect x="567" y="566.65" width="1" height="6.45" fill="#000" fill-opacity="0.857"/>
<rect x="568" y="566.65" width="1" height="6.45" fill="#000" fill-opacity="0.143"/>
<rect x="605" y="425.1" width="1" height="6.45" fill="#000" fill-opacity="0.571"/>
<rect x="606" y="425.1" width="1" height="6.45" fill="#000" fill-opacity="0.429"/>
<rect x="605" y="566.65" width="1" height="6.45" fill="#000" fill-opacity="0.571"/>
<rect x="606" y="566.65" width="1" height="6.45" fill="#000" fill-opacity="0.429"/>
<rect x="643" y="425.1" width="1" height="6.45" fill="#000" fill-opacity="0.286"/>
<rect x="644" y="425.1" width="1" height="6.45" fill="#000" fill-opacity="0.714"/>
<rect x="643" y="566.65" width="1" height="6.45" fill="#000" fill-opacity="0.286"/>
<rect x="644" y="566.65" width="1" height="6.45" fill="#000" fill-opacity="0.714"/>
<rect x="415.05" y="498" width="252.95" height="1" fill="#f00" fill-opacity="0.425"/>
<rect x="415.05" y="499" width="252.95" height="1" fill="#f00" fill-opacity="0.625"/>
<rect x="415.05" y="498" width="4.75" height="1" fill="#00f" fill-opacity="0.425"/>
<rect x="415.05" y="499" width="4.75" height="1" fill="#00f" fill-opacity="0.625"/>
<rect x="423.957" y="498" width="5.8" height="1" fill="#00f" fill-opacity="0.425"/>
<rect x="423.957" y="499" width="5.8" height="1" fill="#00f" fill-opacity="0.625"/>
<rect x="433.914" y="498" width="5.8" height="1" fill="#00f" fill-opacity="0.425"/>
<rect x="433.914" y="499" width="5.8" height="1" fill="#00f" fill-opacity="0.625"/>
<rect x="443.871" y="498" width="5.8" height="1" fill="#00f" fill-opacity="0.425"/>
<rect x="443.871" y="499" width="5.8" height="1" fill="#00f" fill-opacity="0.625"/>
<rect x="453.828" y="498" width="5.8" height="1" fill="#00f" fill-opacity="0.425"/>
<rect x="453.828" y="499" width="5.8" height="1" fill="#00f" fill-opacity="0.625"/>
<rect x="463.785" y="498" width="5.8" height="1" fill="#00f" fill-opacity="0.425"/>
<rect x="463.785" y="499" width="5.8" height="1" fill="#00f" fill-opacity="0.625"/>
<rect x="473.742" y="498" width="5.8" height="1" fill="#00f" fill-opacity="0.425"/>
<rect x="473.742" y="499" width="5.8" height="1" fill="#00f" fill-opacity="0.625"/>
<rect x="483.699" y="498" width="5.8" height="1" fill="#00f" fill-opacity="0.425"/>
<rect x="483.699" y="499" width="5.8" height="1" fill="#00f" fill-opacity="0.625"/>
<rect x="493.656" y="498" width="5.8" height="1" fill="#00f" fill-opacity="0.425"/>
<rect x="493.656" y="499" width="5.8" height="1" fill="#00f" fill-opacity="0.625"/>
<rect x="503.613" y="498" width="5.8" height="1" fill="#00f" fill-opacity="0.425"/>
<rect x="503.613" y="499" width="5.8" height="1" fill="#00f" fill-opacity="0.625"/>
<rect x="513.57" y="498" width="5.8" height="1" fill="#00f" fill-opacity="0.425"/>
<rect x="513.57" y="499" width="5.8" height="1" fill="#00f" fill-opacity="0.625"/>
<rect x="523.527" y="498" width="5.8" height="1" fill="#00f" fill-opacity="0.425"/>
<rect x="523.527" y="499" width="5.8" height="1" fill="#00f" fill-opacity="0.625"/>
<rect x="533.484" y="498" width="5.8" height="1" fill="#00f" fill-opacity="0.425"/>
<rect x="533.484" y="499" width="5.8" height="1" fill="#00f" fill-opacity="0.625"/>
<rect x="543.441" y="498" width="5.8" height="1" fill="#00f" fill-opacity="0.425"/>
<rect x="543.441" y="499" width="5.8" height="1" fill="#00f" fill-opacity="0.625"/>
<rect x="553.398" y="498" width="5.8" height="1" fill="#00f" fill-opacity="0.425"/>
<rect x="553.398" y="499" width="5.8" height="1" fill="#00f" fill-opacity="0.625"/>
<rect x="563.355" y="498" width="5.8" height="1" fill="#00f" fill-opacity="0.425"/>
<rect x="563.355" y="499" width="5.8" height="1" fill="#00f" fill-opacity="0.625"/>
<rect x="573.312" y="498" width="5.8" height="1" fill="#00f" fill-opacity="0.425"/>
<rect x="573.312" y="499" width="5.8" height="1" fill="#00f" fill-opacity="0.625"/>
<rect x="583.269" y="498" width="5.8" height="1" fill="#00f" fill-opacity="0.425"/>
<rect x="583.269" y="499" width="5.8" height="1" fill="#00f" fill-opacity="0.625"/>
<rect x="593.226" y="498" width="5.8" height="1" fill="#00f" fill-opacity="0.425"/>
<rect x="593.226" y="499" width="5.8" height="1" fill="#00f" fill-opacity="0.625"/>
<rect x="603.183" y="498" width="5.8" height="1" fill="#00f" fill-opacity="0.425"/>
<rect x="603.183" y="499" width="5.8" height="1" fill="#00f" fill-opacity="0.625"/>
<rect x="613.14" y="498" width="5.8" height="1" fill="#00f" fill-opacity="0.425"/>
<rect x="613.14" y="499" width="5.8" height="1" fill="#00f" fill-opacity="0.625"/>
<rect x="623.097" y="498" width="5.8" height="1" fill="#00f" fill-opacity="0.425"/>
<rect x="623.097" y="499" width="5.8" height="1" fill="#00f" fill-opacity="0.625"/>
<rect x="633.054" y="498" width="5.8" height="1" fill="#00f" fill-opacity="0.425"/>
<rect x="633.054" y="499" width="5.8" height="1" fill="#00f" fill-opacity="0.625"/>
<rect x="643.011" y="498" width="5.8" height="1" fill="#00f" fill-opacity="0.425"/>
<rect x="643.011" y="499" width="5.8" height="1" fill="#00f" fill-opacity="0.625"/>
<rect x="652.968" y="498" width="5.8" height="1" fill="#00f" fill-opacity="0.425"/>
<rect x="652.968" y="499" width="5.8" height="1" fill="#00f" fill-opacity="0.625"/>
<rect x="662.925" y="498" width="5.075" height="1" fill="#00f" fill-opacity="0.425"/>
<rect x="662.925" y="499" width="5.075" height="1" fill="#00f" fill-opacity="0.625"/>
<text transform="translate(398.1 450.3) skewY(0.05) scale(0.99 1.09)" text-anchor="end" font-size="13.3">0.8</text>
<text transform="translate(398.1 477.1) skewY(0.05) scale(0.99 1.09)" text-anchor="end" font-size="13.3">0.4</text>
<text transform="translate(398.1 503.9) skewY(0.05) scale(0.99 1.09)" text-anchor="end" font-size="13.3">0.0</text>
<text transform="translate(398.1 530.7) skewY(0.05) scale(0.99 1.09)" text-anchor="end" font-size="13.3">-<tspan dx="0.9">0.4</tspan></text>
<text transform="translate(398.1 557.5) skewY(0.05) scale(0.99 1.09)" text-anchor="end" font-size="13.3">-<tspan dx="0.9">0.8</tspan></text>
<text transform="translate(414.5 591.9) skewY(0.05) scale(0.99 1.09)" text-anchor="middle" font-size="13.3">2015</text>
<text transform="translate(452.786 591.9) skewY(0.05) scale(0.99 1.09)" text-anchor="middle" font-size="13.3">2020</text>
<text transform="translate(491.071 591.9) skewY(0.05) scale(0.99 1.09)" text-anchor="middle" font-size="13.3">2025</text>
<text transform="translate(529.357 591.9) skewY(0.05) scale(0.99 1.09)" text-anchor="middle" font-size="13.3">2030</text>
<text transform="translate(567.643 591.9) skewY(0.05) scale(0.99 1.09)" text-anchor="middle" font-size="13.3">2035</text>
<text transform="translate(605.929 591.9) skewY(0.05) scale(0.99 1.09)" text-anchor="middle" font-size="13.3">2040</text>
<text transform="translate(644.214 591.9) skewY(0.05) scale(0.99 1.09)" text-anchor="middle" font-size="13.3">2045</text>
<text transform="translate(682.5 591.9) skewY(0.05) scale(0.99 1.09)" text-anchor="middle" font-size="13.3">2050</text>
<text transform="translate(548.5 424.6) skewY(0.05) scale(1.0 1.07)" text-anchor="middle" font-size="13.8">Fractional Area Burned - Crop</text>
<text transform="translate(363.6 499.1) rotate(-90) skewY(0.05) scale(1.0 1.07)" text-anchor="middle" font-size="14.0">proportion/y</text>
<rect x="161" y="649" width="10.8" height="1" fill="#7878ff"/>
<rect x="181.8" y="649" width="10.8" height="1" fill="#7878ff"/>
<rect x="202.6" y="649" width="10.8" height="1" fill="#7878ff"/>
<rect x="223.4" y="649" width="10.8" height="1" fill="#7878ff"/>
<rect x="244.2" y="649" width="10.8" height="1" fill="#7878ff"/>
<rect x="161" y="680" width="101" height="1" fill="#ff8484"/>
<text x="269.3" y="651.9" font-size="10">Myccost_ISSP585Clm50BgcCrop_control (yrs 2015-2048)</text>
<text x="269.3" y="683.4" font-size="10">Myccost_ISSP585Clm50BgcCrop_kparams (yrs 2015-2048)</text>
</svg>
</body></html>
